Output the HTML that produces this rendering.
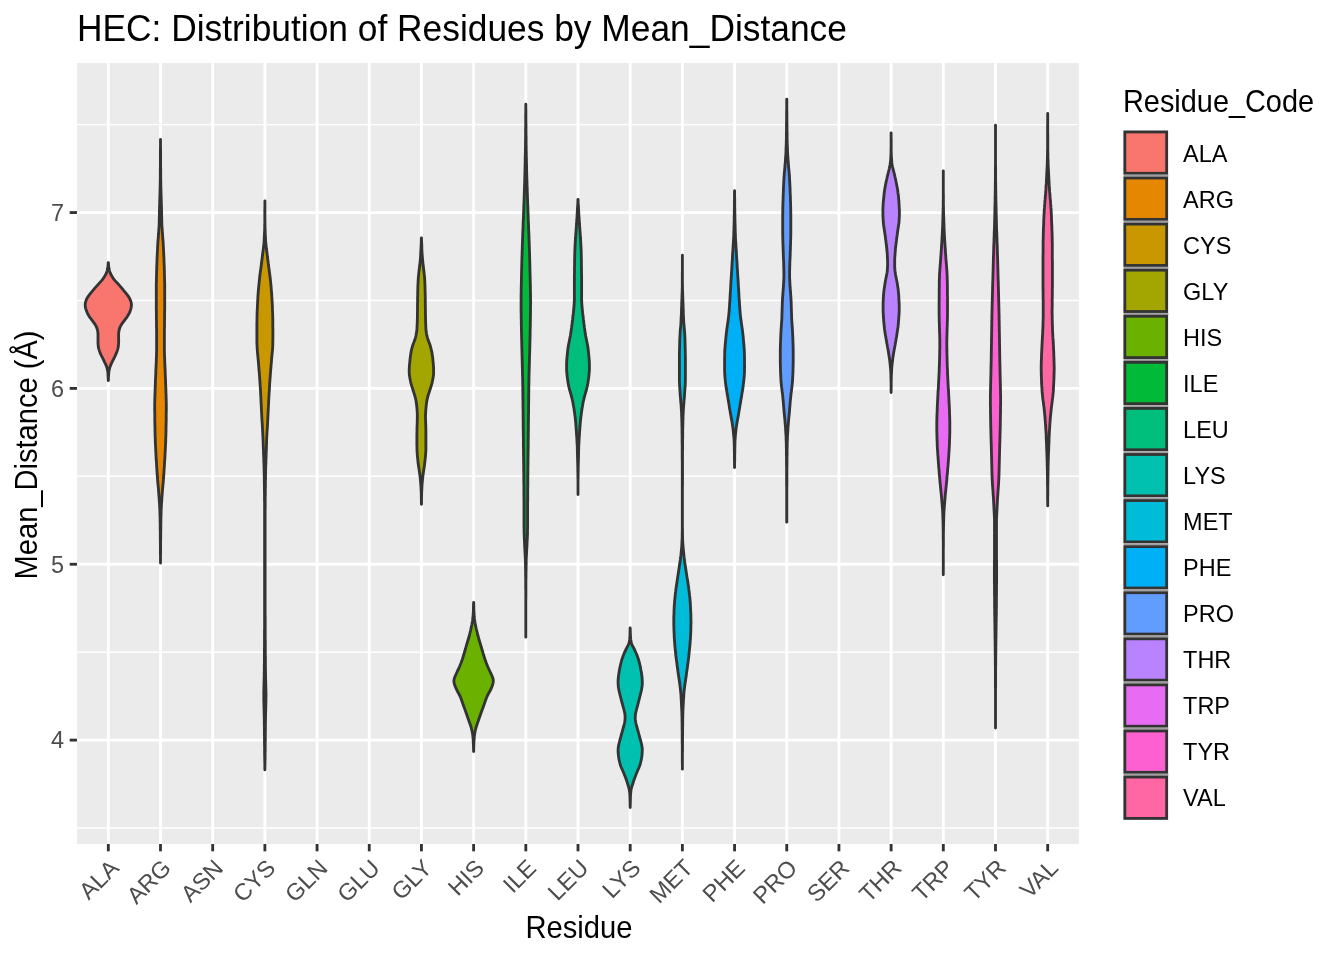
<!DOCTYPE html>
<html><head><meta charset="utf-8"><style>html,body{margin:0;padding:0;background:#fff;overflow:hidden}svg{display:block;will-change:transform}</style></head>
<body><svg width="1344" height="960" viewBox="0 0 1344 960">
<rect x="0" y="0" width="1344" height="960" fill="#FFFFFF"/>
<rect x="77.0" y="63.0" width="1002.0" height="781.0" fill="#EBEBEB"/>
<line x1="77.0" x2="1079.0" y1="124.63" y2="124.63" stroke="#FFFFFF" stroke-width="1.42"/>
<line x1="77.0" x2="1079.0" y1="300.48" y2="300.48" stroke="#FFFFFF" stroke-width="1.42"/>
<line x1="77.0" x2="1079.0" y1="476.32" y2="476.32" stroke="#FFFFFF" stroke-width="1.42"/>
<line x1="77.0" x2="1079.0" y1="652.17" y2="652.17" stroke="#FFFFFF" stroke-width="1.42"/>
<line x1="77.0" x2="1079.0" y1="828.03" y2="828.03" stroke="#FFFFFF" stroke-width="1.42"/>
<line x1="77.0" x2="1079.0" y1="212.55" y2="212.55" stroke="#FFFFFF" stroke-width="2.84"/>
<line x1="77.0" x2="1079.0" y1="388.40" y2="388.40" stroke="#FFFFFF" stroke-width="2.84"/>
<line x1="77.0" x2="1079.0" y1="564.25" y2="564.25" stroke="#FFFFFF" stroke-width="2.84"/>
<line x1="77.0" x2="1079.0" y1="740.10" y2="740.10" stroke="#FFFFFF" stroke-width="2.84"/>
<line x1="108.31" x2="108.31" y1="63.0" y2="844.0" stroke="#FFFFFF" stroke-width="2.84"/>
<line x1="160.50" x2="160.50" y1="63.0" y2="844.0" stroke="#FFFFFF" stroke-width="2.84"/>
<line x1="212.69" x2="212.69" y1="63.0" y2="844.0" stroke="#FFFFFF" stroke-width="2.84"/>
<line x1="264.88" x2="264.88" y1="63.0" y2="844.0" stroke="#FFFFFF" stroke-width="2.84"/>
<line x1="317.06" x2="317.06" y1="63.0" y2="844.0" stroke="#FFFFFF" stroke-width="2.84"/>
<line x1="369.25" x2="369.25" y1="63.0" y2="844.0" stroke="#FFFFFF" stroke-width="2.84"/>
<line x1="421.44" x2="421.44" y1="63.0" y2="844.0" stroke="#FFFFFF" stroke-width="2.84"/>
<line x1="473.62" x2="473.62" y1="63.0" y2="844.0" stroke="#FFFFFF" stroke-width="2.84"/>
<line x1="525.81" x2="525.81" y1="63.0" y2="844.0" stroke="#FFFFFF" stroke-width="2.84"/>
<line x1="578.00" x2="578.00" y1="63.0" y2="844.0" stroke="#FFFFFF" stroke-width="2.84"/>
<line x1="630.19" x2="630.19" y1="63.0" y2="844.0" stroke="#FFFFFF" stroke-width="2.84"/>
<line x1="682.38" x2="682.38" y1="63.0" y2="844.0" stroke="#FFFFFF" stroke-width="2.84"/>
<line x1="734.56" x2="734.56" y1="63.0" y2="844.0" stroke="#FFFFFF" stroke-width="2.84"/>
<line x1="786.75" x2="786.75" y1="63.0" y2="844.0" stroke="#FFFFFF" stroke-width="2.84"/>
<line x1="838.94" x2="838.94" y1="63.0" y2="844.0" stroke="#FFFFFF" stroke-width="2.84"/>
<line x1="891.12" x2="891.12" y1="63.0" y2="844.0" stroke="#FFFFFF" stroke-width="2.84"/>
<line x1="943.31" x2="943.31" y1="63.0" y2="844.0" stroke="#FFFFFF" stroke-width="2.84"/>
<line x1="995.50" x2="995.50" y1="63.0" y2="844.0" stroke="#FFFFFF" stroke-width="2.84"/>
<line x1="1047.69" x2="1047.69" y1="63.0" y2="844.0" stroke="#FFFFFF" stroke-width="2.84"/>
<path d="M108.4 262.6 L108.5 264.6 L108.7 266.6 L109.0 268.6 L109.4 270.6 L110.1 272.6 L110.9 274.6 L112.1 276.6 L113.4 278.6 L115.0 280.6 L116.8 282.6 L118.7 284.6 L120.5 286.6 L122.2 288.6 L123.8 290.6 L125.5 292.6 L127.1 294.6 L128.5 296.6 L129.7 298.6 L130.6 300.6 L131.2 302.6 L131.5 304.6 L131.3 306.6 L130.9 308.6 L130.3 310.6 L129.5 312.6 L128.5 314.6 L127.3 316.6 L125.8 318.6 L124.3 320.6 L122.8 322.6 L121.5 324.6 L120.3 326.6 L119.5 328.6 L119.0 330.6 L118.7 332.6 L118.6 334.6 L118.6 336.6 L118.6 338.6 L118.7 340.6 L118.6 342.6 L118.5 344.6 L118.3 346.6 L117.9 348.6 L117.3 350.6 L116.6 352.6 L115.7 354.6 L114.8 356.6 L113.8 358.6 L112.8 360.6 L111.8 362.6 L110.9 364.6 L110.1 366.6 L109.5 368.6 L109.0 370.6 L108.8 372.6 L108.6 374.6 L108.5 376.6 L108.4 378.6 L108.4 380.6 L108.3 380.6 L108.2 378.6 L108.1 376.6 L108.0 374.6 L107.9 372.6 L107.6 370.6 L107.2 368.6 L106.6 366.6 L105.8 364.6 L104.8 362.6 L103.9 360.6 L102.9 358.6 L101.9 356.6 L100.9 354.6 L100.0 352.6 L99.3 350.6 L98.7 348.6 L98.3 346.6 L98.1 344.6 L98.0 342.6 L98.0 340.6 L98.0 338.6 L98.0 336.6 L98.0 334.6 L97.9 332.6 L97.6 330.6 L97.1 328.6 L96.3 326.6 L95.2 324.6 L93.8 322.6 L92.3 320.6 L90.8 318.6 L89.3 316.6 L88.1 314.6 L87.2 312.6 L86.4 310.6 L85.7 308.6 L85.3 306.6 L85.2 304.6 L85.4 302.6 L86.0 300.6 L86.9 298.6 L88.1 296.6 L89.5 294.6 L91.1 292.6 L92.8 290.6 L94.4 288.6 L96.2 286.6 L98.0 284.6 L99.8 282.6 L101.6 280.6 L103.2 278.6 L104.5 276.6 L105.7 274.6 L106.6 272.6 L107.2 270.6 L107.6 268.6 L107.9 266.6 L108.1 264.6 L108.2 262.6 Z" fill="#F8766D" stroke="#333333" stroke-width="2.84" stroke-linejoin="round"/>
<path d="M160.5 139.5 L160.5 141.5 L160.5 143.5 L160.5 145.5 L160.5 147.5 L160.6 149.5 L160.6 151.5 L160.6 153.5 L160.6 155.5 L160.6 157.5 L160.6 159.5 L160.6 161.5 L160.6 163.5 L160.6 165.5 L160.6 167.5 L160.7 169.5 L160.7 171.5 L160.7 173.5 L160.7 175.5 L160.7 177.5 L160.7 179.5 L160.8 181.5 L160.8 183.5 L160.8 185.5 L160.9 187.5 L160.9 189.5 L161.0 191.5 L161.0 193.5 L161.1 195.5 L161.2 197.5 L161.2 199.5 L161.3 201.5 L161.3 203.5 L161.4 205.5 L161.5 207.5 L161.5 209.5 L161.6 211.5 L161.6 213.5 L161.6 215.5 L161.7 217.5 L161.7 219.5 L161.8 221.5 L161.8 223.5 L161.9 225.5 L162.0 227.5 L162.2 229.5 L162.3 231.5 L162.4 233.5 L162.6 235.5 L162.7 237.5 L162.9 239.5 L163.1 241.5 L163.2 243.5 L163.3 245.5 L163.4 247.5 L163.5 249.5 L163.6 251.5 L163.7 253.5 L163.8 255.5 L163.9 257.5 L164.0 259.5 L164.0 261.5 L164.1 263.5 L164.2 265.5 L164.3 267.5 L164.3 269.5 L164.4 271.5 L164.4 273.5 L164.5 275.5 L164.5 277.5 L164.6 279.5 L164.6 281.5 L164.7 283.5 L164.7 285.5 L164.7 287.5 L164.7 289.5 L164.7 291.5 L164.7 293.5 L164.7 295.5 L164.7 297.5 L164.7 299.5 L164.7 301.5 L164.7 303.5 L164.7 305.5 L164.7 307.5 L164.7 309.5 L164.6 311.5 L164.6 313.5 L164.6 315.5 L164.6 317.5 L164.6 319.5 L164.5 321.5 L164.5 323.5 L164.5 325.5 L164.5 327.5 L164.4 329.5 L164.4 331.5 L164.4 333.5 L164.4 335.5 L164.4 337.5 L164.4 339.5 L164.4 341.5 L164.4 343.5 L164.4 345.5 L164.4 347.5 L164.4 349.5 L164.4 351.5 L164.5 353.5 L164.5 355.5 L164.6 357.5 L164.7 359.5 L164.7 361.5 L164.8 363.5 L164.9 365.5 L165.0 367.5 L165.1 369.5 L165.2 371.5 L165.2 373.5 L165.3 375.5 L165.4 377.5 L165.5 379.5 L165.6 381.5 L165.6 383.5 L165.7 385.5 L165.8 387.5 L165.9 389.5 L165.9 391.5 L166.0 393.5 L166.1 395.5 L166.1 397.5 L166.2 399.5 L166.2 401.5 L166.3 403.5 L166.3 405.5 L166.3 407.5 L166.3 409.5 L166.3 411.5 L166.2 413.5 L166.2 415.5 L166.2 417.5 L166.2 419.5 L166.2 421.5 L166.1 423.5 L166.1 425.5 L166.0 427.5 L166.0 429.5 L166.0 431.5 L165.9 433.5 L165.9 435.5 L165.8 437.5 L165.7 439.5 L165.7 441.5 L165.6 443.5 L165.5 445.5 L165.4 447.5 L165.3 449.5 L165.2 451.5 L165.1 453.5 L165.0 455.5 L164.9 457.5 L164.8 459.5 L164.6 461.5 L164.5 463.5 L164.4 465.5 L164.3 467.5 L164.1 469.5 L164.0 471.5 L163.9 473.5 L163.7 475.5 L163.6 477.5 L163.4 479.5 L163.3 481.5 L163.1 483.5 L162.9 485.5 L162.7 487.5 L162.5 489.5 L162.4 491.5 L162.2 493.5 L162.1 495.5 L161.9 497.5 L161.8 499.5 L161.7 501.5 L161.5 503.5 L161.4 505.5 L161.3 507.5 L161.2 509.5 L161.1 511.5 L161.1 513.5 L161.0 515.5 L160.9 517.5 L160.9 519.5 L160.9 521.5 L160.8 523.5 L160.8 525.5 L160.8 527.5 L160.8 529.5 L160.7 531.5 L160.7 533.5 L160.7 535.5 L160.7 537.5 L160.7 539.5 L160.6 541.5 L160.6 543.5 L160.6 545.5 L160.6 547.5 L160.6 549.5 L160.6 551.5 L160.6 553.5 L160.5 555.5 L160.5 557.5 L160.5 559.5 L160.5 561.5 L160.5 563.0 L160.5 563.0 L160.5 561.5 L160.5 559.5 L160.5 557.5 L160.5 555.5 L160.4 553.5 L160.4 551.5 L160.4 549.5 L160.4 547.5 L160.4 545.5 L160.4 543.5 L160.4 541.5 L160.3 539.5 L160.3 537.5 L160.3 535.5 L160.3 533.5 L160.3 531.5 L160.2 529.5 L160.2 527.5 L160.2 525.5 L160.2 523.5 L160.1 521.5 L160.1 519.5 L160.1 517.5 L160.0 515.5 L159.9 513.5 L159.9 511.5 L159.8 509.5 L159.7 507.5 L159.6 505.5 L159.5 503.5 L159.3 501.5 L159.2 499.5 L159.1 497.5 L158.9 495.5 L158.8 493.5 L158.6 491.5 L158.5 489.5 L158.3 487.5 L158.1 485.5 L157.9 483.5 L157.7 481.5 L157.6 479.5 L157.4 477.5 L157.3 475.5 L157.1 473.5 L157.0 471.5 L156.9 469.5 L156.7 467.5 L156.6 465.5 L156.5 463.5 L156.4 461.5 L156.2 459.5 L156.1 457.5 L156.0 455.5 L155.9 453.5 L155.8 451.5 L155.7 449.5 L155.6 447.5 L155.5 445.5 L155.4 443.5 L155.3 441.5 L155.3 439.5 L155.2 437.5 L155.1 435.5 L155.1 433.5 L155.0 431.5 L155.0 429.5 L155.0 427.5 L154.9 425.5 L154.9 423.5 L154.8 421.5 L154.8 419.5 L154.8 417.5 L154.8 415.5 L154.8 413.5 L154.7 411.5 L154.7 409.5 L154.7 407.5 L154.7 405.5 L154.7 403.5 L154.8 401.5 L154.8 399.5 L154.9 397.5 L154.9 395.5 L155.0 393.5 L155.1 391.5 L155.1 389.5 L155.2 387.5 L155.3 385.5 L155.4 383.5 L155.4 381.5 L155.5 379.5 L155.6 377.5 L155.7 375.5 L155.8 373.5 L155.8 371.5 L155.9 369.5 L156.0 367.5 L156.1 365.5 L156.2 363.5 L156.3 361.5 L156.3 359.5 L156.4 357.5 L156.5 355.5 L156.5 353.5 L156.6 351.5 L156.6 349.5 L156.6 347.5 L156.6 345.5 L156.6 343.5 L156.6 341.5 L156.6 339.5 L156.6 337.5 L156.6 335.5 L156.6 333.5 L156.6 331.5 L156.6 329.5 L156.5 327.5 L156.5 325.5 L156.5 323.5 L156.5 321.5 L156.4 319.5 L156.4 317.5 L156.4 315.5 L156.4 313.5 L156.4 311.5 L156.3 309.5 L156.3 307.5 L156.3 305.5 L156.3 303.5 L156.3 301.5 L156.3 299.5 L156.3 297.5 L156.3 295.5 L156.3 293.5 L156.3 291.5 L156.3 289.5 L156.3 287.5 L156.3 285.5 L156.3 283.5 L156.4 281.5 L156.4 279.5 L156.5 277.5 L156.5 275.5 L156.6 273.5 L156.6 271.5 L156.7 269.5 L156.7 267.5 L156.8 265.5 L156.9 263.5 L157.0 261.5 L157.0 259.5 L157.1 257.5 L157.2 255.5 L157.3 253.5 L157.4 251.5 L157.5 249.5 L157.6 247.5 L157.7 245.5 L157.8 243.5 L157.9 241.5 L158.1 239.5 L158.3 237.5 L158.4 235.5 L158.6 233.5 L158.7 231.5 L158.8 229.5 L159.0 227.5 L159.1 225.5 L159.2 223.5 L159.2 221.5 L159.3 219.5 L159.3 217.5 L159.4 215.5 L159.4 213.5 L159.4 211.5 L159.5 209.5 L159.5 207.5 L159.6 205.5 L159.7 203.5 L159.7 201.5 L159.8 199.5 L159.8 197.5 L159.9 195.5 L160.0 193.5 L160.0 191.5 L160.1 189.5 L160.1 187.5 L160.2 185.5 L160.2 183.5 L160.2 181.5 L160.3 179.5 L160.3 177.5 L160.3 175.5 L160.3 173.5 L160.3 171.5 L160.3 169.5 L160.4 167.5 L160.4 165.5 L160.4 163.5 L160.4 161.5 L160.4 159.5 L160.4 157.5 L160.4 155.5 L160.4 153.5 L160.4 151.5 L160.4 149.5 L160.5 147.5 L160.5 145.5 L160.5 143.5 L160.5 141.5 L160.5 139.5 Z" fill="#E58700" stroke="#333333" stroke-width="2.84" stroke-linejoin="round"/>
<path d="M264.9 200.8 L264.9 202.8 L264.9 204.8 L264.9 206.8 L264.9 208.8 L264.9 210.8 L264.9 212.8 L264.9 214.8 L264.9 216.8 L264.9 218.8 L265.0 220.8 L265.0 222.8 L265.0 224.8 L265.0 226.8 L265.1 228.8 L265.2 230.8 L265.2 232.8 L265.3 234.8 L265.4 236.8 L265.5 238.8 L265.6 240.8 L265.8 242.8 L266.0 244.8 L266.2 246.8 L266.4 248.8 L266.7 250.8 L266.9 252.8 L267.2 254.8 L267.4 256.8 L267.7 258.8 L267.9 260.8 L268.2 262.8 L268.4 264.8 L268.7 266.8 L269.0 268.8 L269.2 270.8 L269.5 272.8 L269.8 274.8 L270.0 276.8 L270.3 278.8 L270.5 280.8 L270.7 282.8 L270.9 284.8 L271.1 286.8 L271.2 288.8 L271.4 290.8 L271.6 292.8 L271.7 294.8 L271.8 296.8 L272.0 298.8 L272.1 300.8 L272.2 302.8 L272.3 304.8 L272.4 306.8 L272.4 308.8 L272.5 310.8 L272.6 312.8 L272.7 314.8 L272.7 316.8 L272.8 318.8 L272.8 320.8 L272.8 322.8 L272.8 324.8 L272.8 326.8 L272.9 328.8 L272.9 330.8 L272.9 332.8 L272.9 334.8 L272.9 336.8 L272.9 338.8 L272.8 340.8 L272.8 342.8 L272.8 344.8 L272.7 346.8 L272.6 348.8 L272.4 350.8 L272.2 352.8 L272.0 354.8 L271.8 356.8 L271.6 358.8 L271.5 360.8 L271.3 362.8 L271.1 364.8 L271.0 366.8 L270.8 368.8 L270.6 370.8 L270.5 372.8 L270.3 374.8 L270.2 376.8 L270.0 378.8 L269.9 380.8 L269.7 382.8 L269.6 384.8 L269.5 386.8 L269.4 388.8 L269.3 390.8 L269.1 392.8 L269.0 394.8 L268.9 396.8 L268.8 398.8 L268.7 400.8 L268.6 402.8 L268.5 404.8 L268.4 406.8 L268.3 408.8 L268.2 410.8 L268.1 412.8 L268.0 414.8 L267.9 416.8 L267.8 418.8 L267.7 420.8 L267.6 422.8 L267.5 424.8 L267.4 426.8 L267.3 428.8 L267.1 430.8 L267.0 432.8 L266.9 434.8 L266.8 436.8 L266.7 438.8 L266.6 440.8 L266.6 442.8 L266.5 444.8 L266.4 446.8 L266.4 448.8 L266.3 450.8 L266.2 452.8 L266.1 454.8 L266.1 456.8 L266.0 458.8 L265.9 460.8 L265.9 462.8 L265.8 464.8 L265.7 466.8 L265.7 468.8 L265.6 470.8 L265.6 472.8 L265.5 474.8 L265.5 476.8 L265.5 478.8 L265.4 480.8 L265.4 482.8 L265.4 484.8 L265.4 486.8 L265.3 488.8 L265.3 490.8 L265.3 492.8 L265.3 494.8 L265.2 496.8 L265.2 498.8 L265.2 500.8 L265.2 502.8 L265.2 504.8 L265.2 506.8 L265.2 508.8 L265.1 510.8 L265.1 512.8 L265.1 514.8 L265.1 516.8 L265.1 518.8 L265.1 520.8 L265.1 522.8 L265.1 524.8 L265.1 526.8 L265.1 528.8 L265.1 530.8 L265.1 532.8 L265.1 534.8 L265.1 536.8 L265.1 538.8 L265.1 540.8 L265.1 542.8 L265.1 544.8 L265.1 546.8 L265.1 548.8 L265.1 550.8 L265.1 552.8 L265.1 554.8 L265.1 556.8 L265.1 558.8 L265.1 560.8 L265.1 562.8 L265.1 564.8 L265.1 566.8 L265.1 568.8 L265.1 570.8 L265.1 572.8 L265.1 574.8 L265.1 576.8 L265.1 578.8 L265.1 580.8 L265.1 582.8 L265.1 584.8 L265.1 586.8 L265.1 588.8 L265.1 590.8 L265.1 592.8 L265.1 594.8 L265.1 596.8 L265.1 598.8 L265.1 600.8 L265.1 602.8 L265.1 604.8 L265.1 606.8 L265.1 608.8 L265.1 610.8 L265.1 612.8 L265.1 614.8 L265.2 616.8 L265.2 618.8 L265.2 620.8 L265.2 622.8 L265.2 624.8 L265.2 626.8 L265.2 628.8 L265.2 630.8 L265.2 632.8 L265.2 634.8 L265.2 636.8 L265.2 638.8 L265.3 640.8 L265.3 642.8 L265.3 644.8 L265.3 646.8 L265.3 648.8 L265.3 650.8 L265.3 652.8 L265.3 654.8 L265.4 656.8 L265.4 658.8 L265.4 660.8 L265.4 662.8 L265.4 664.8 L265.4 666.8 L265.5 668.8 L265.5 670.8 L265.5 672.8 L265.5 674.8 L265.6 676.8 L265.6 678.8 L265.7 680.8 L265.7 682.8 L265.8 684.8 L265.8 686.8 L265.9 688.8 L265.9 690.8 L266.0 692.8 L266.0 694.8 L266.0 696.8 L265.9 698.8 L265.9 700.8 L265.9 702.8 L265.8 704.8 L265.8 706.8 L265.7 708.8 L265.7 710.8 L265.6 712.8 L265.6 714.8 L265.5 716.8 L265.5 718.8 L265.5 720.8 L265.4 722.8 L265.4 724.8 L265.4 726.8 L265.4 728.8 L265.3 730.8 L265.3 732.8 L265.3 734.8 L265.3 736.8 L265.3 738.8 L265.3 740.8 L265.2 742.8 L265.2 744.8 L265.2 746.8 L265.2 748.8 L265.2 750.8 L265.1 752.8 L265.1 754.8 L265.1 756.8 L265.1 758.8 L265.0 760.8 L265.0 762.8 L265.0 764.8 L264.9 766.8 L264.9 768.8 L264.9 769.8 L264.9 769.8 L264.8 768.8 L264.8 766.8 L264.8 764.8 L264.8 762.8 L264.7 760.8 L264.7 758.8 L264.7 756.8 L264.6 754.8 L264.6 752.8 L264.6 750.8 L264.6 748.8 L264.6 746.8 L264.5 744.8 L264.5 742.8 L264.5 740.8 L264.5 738.8 L264.5 736.8 L264.4 734.8 L264.4 732.8 L264.4 730.8 L264.4 728.8 L264.4 726.8 L264.3 724.8 L264.3 722.8 L264.3 720.8 L264.3 718.8 L264.2 716.8 L264.2 714.8 L264.1 712.8 L264.1 710.8 L264.0 708.8 L264.0 706.8 L263.9 704.8 L263.9 702.8 L263.8 700.8 L263.8 698.8 L263.8 696.8 L263.8 694.8 L263.8 692.8 L263.8 690.8 L263.9 688.8 L263.9 686.8 L264.0 684.8 L264.0 682.8 L264.1 680.8 L264.1 678.8 L264.2 676.8 L264.2 674.8 L264.2 672.8 L264.3 670.8 L264.3 668.8 L264.3 666.8 L264.3 664.8 L264.4 662.8 L264.4 660.8 L264.4 658.8 L264.4 656.8 L264.4 654.8 L264.4 652.8 L264.4 650.8 L264.4 648.8 L264.5 646.8 L264.5 644.8 L264.5 642.8 L264.5 640.8 L264.5 638.8 L264.5 636.8 L264.5 634.8 L264.5 632.8 L264.5 630.8 L264.6 628.8 L264.6 626.8 L264.6 624.8 L264.6 622.8 L264.6 620.8 L264.6 618.8 L264.6 616.8 L264.6 614.8 L264.6 612.8 L264.6 610.8 L264.6 608.8 L264.6 606.8 L264.6 604.8 L264.6 602.8 L264.6 600.8 L264.6 598.8 L264.6 596.8 L264.6 594.8 L264.6 592.8 L264.6 590.8 L264.6 588.8 L264.6 586.8 L264.6 584.8 L264.6 582.8 L264.6 580.8 L264.6 578.8 L264.6 576.8 L264.6 574.8 L264.6 572.8 L264.6 570.8 L264.6 568.8 L264.6 566.8 L264.6 564.8 L264.6 562.8 L264.6 560.8 L264.6 558.8 L264.6 556.8 L264.6 554.8 L264.6 552.8 L264.6 550.8 L264.6 548.8 L264.6 546.8 L264.6 544.8 L264.6 542.8 L264.6 540.8 L264.6 538.8 L264.6 536.8 L264.6 534.8 L264.6 532.8 L264.6 530.8 L264.6 528.8 L264.6 526.8 L264.6 524.8 L264.6 522.8 L264.6 520.8 L264.6 518.8 L264.6 516.8 L264.6 514.8 L264.6 512.8 L264.6 510.8 L264.6 508.8 L264.6 506.8 L264.6 504.8 L264.6 502.8 L264.5 500.8 L264.5 498.8 L264.5 496.8 L264.5 494.8 L264.5 492.8 L264.4 490.8 L264.4 488.8 L264.4 486.8 L264.4 484.8 L264.3 482.8 L264.3 480.8 L264.3 478.8 L264.3 476.8 L264.2 474.8 L264.2 472.8 L264.1 470.8 L264.1 468.8 L264.0 466.8 L264.0 464.8 L263.9 462.8 L263.8 460.8 L263.8 458.8 L263.7 456.8 L263.6 454.8 L263.5 452.8 L263.5 450.8 L263.4 448.8 L263.3 446.8 L263.2 444.8 L263.2 442.8 L263.1 440.8 L263.0 438.8 L262.9 436.8 L262.8 434.8 L262.7 432.8 L262.6 430.8 L262.5 428.8 L262.4 426.8 L262.3 424.8 L262.2 422.8 L262.0 420.8 L261.9 418.8 L261.8 416.8 L261.7 414.8 L261.6 412.8 L261.5 410.8 L261.4 408.8 L261.3 406.8 L261.2 404.8 L261.1 402.8 L261.0 400.8 L260.9 398.8 L260.8 396.8 L260.7 394.8 L260.6 392.8 L260.5 390.8 L260.4 388.8 L260.3 386.8 L260.1 384.8 L260.0 382.8 L259.9 380.8 L259.7 378.8 L259.6 376.8 L259.4 374.8 L259.3 372.8 L259.1 370.8 L258.9 368.8 L258.8 366.8 L258.6 364.8 L258.5 362.8 L258.3 360.8 L258.1 358.8 L257.9 356.8 L257.7 354.8 L257.5 352.8 L257.4 350.8 L257.2 348.8 L257.1 346.8 L257.0 344.8 L256.9 342.8 L256.9 340.8 L256.9 338.8 L256.9 336.8 L256.9 334.8 L256.9 332.8 L256.9 330.8 L256.9 328.8 L256.9 326.8 L256.9 324.8 L256.9 322.8 L257.0 320.8 L257.0 318.8 L257.0 316.8 L257.1 314.8 L257.1 312.8 L257.2 310.8 L257.3 308.8 L257.4 306.8 L257.5 304.8 L257.6 302.8 L257.7 300.8 L257.8 298.8 L257.9 296.8 L258.0 294.8 L258.2 292.8 L258.3 290.8 L258.5 288.8 L258.7 286.8 L258.9 284.8 L259.1 282.8 L259.3 280.8 L259.5 278.8 L259.7 276.8 L260.0 274.8 L260.2 272.8 L260.5 270.8 L260.8 268.8 L261.1 266.8 L261.3 264.8 L261.6 262.8 L261.8 260.8 L262.1 258.8 L262.3 256.8 L262.6 254.8 L262.8 252.8 L263.1 250.8 L263.3 248.8 L263.6 246.8 L263.8 244.8 L264.0 242.8 L264.1 240.8 L264.2 238.8 L264.3 236.8 L264.4 234.8 L264.5 232.8 L264.6 230.8 L264.7 228.8 L264.7 226.8 L264.7 224.8 L264.8 222.8 L264.8 220.8 L264.8 218.8 L264.8 216.8 L264.8 214.8 L264.8 212.8 L264.8 210.8 L264.8 208.8 L264.9 206.8 L264.9 204.8 L264.9 202.8 L264.9 200.8 Z" fill="#C99800" stroke="#333333" stroke-width="2.84" stroke-linejoin="round"/>
<path d="M421.5 237.8 L421.5 239.8 L421.6 241.8 L421.7 243.8 L421.8 245.8 L421.8 247.8 L421.9 249.8 L422.0 251.8 L422.1 253.8 L422.3 255.8 L422.4 257.8 L422.6 259.8 L422.8 261.8 L423.0 263.8 L423.2 265.8 L423.5 267.8 L423.7 269.8 L424.0 271.8 L424.2 273.8 L424.4 275.8 L424.6 277.8 L424.7 279.8 L424.8 281.8 L424.9 283.8 L425.0 285.8 L425.0 287.8 L425.1 289.8 L425.1 291.8 L425.2 293.8 L425.2 295.8 L425.3 297.8 L425.3 299.8 L425.3 301.8 L425.3 303.8 L425.3 305.8 L425.4 307.8 L425.4 309.8 L425.4 311.8 L425.4 313.8 L425.5 315.8 L425.5 317.8 L425.6 319.8 L425.6 321.8 L425.7 323.8 L425.8 325.8 L425.8 327.8 L426.0 329.8 L426.2 331.8 L426.5 333.8 L427.0 335.8 L427.5 337.8 L428.1 339.8 L428.8 341.8 L429.6 343.8 L430.3 345.8 L430.8 347.8 L431.3 349.8 L431.8 351.8 L432.1 353.8 L432.4 355.8 L432.7 357.8 L432.9 359.8 L433.1 361.8 L433.3 363.8 L433.4 365.8 L433.6 367.8 L433.6 369.8 L433.6 371.8 L433.6 373.8 L433.4 375.8 L433.1 377.8 L432.7 379.8 L432.3 381.8 L431.8 383.8 L431.2 385.8 L430.6 387.8 L430.0 389.8 L429.3 391.8 L428.7 393.8 L428.0 395.8 L427.5 397.8 L427.1 399.8 L426.7 401.8 L426.4 403.8 L426.2 405.8 L426.0 407.8 L425.8 409.8 L425.7 411.8 L425.6 413.8 L425.5 415.8 L425.5 417.8 L425.6 419.8 L425.6 421.8 L425.7 423.8 L425.8 425.8 L425.8 427.8 L425.9 429.8 L425.9 431.8 L425.9 433.8 L425.9 435.8 L425.9 437.8 L425.9 439.8 L425.9 441.8 L425.9 443.8 L425.9 445.8 L425.9 447.8 L425.9 449.8 L425.8 451.8 L425.6 453.8 L425.5 455.8 L425.3 457.8 L425.1 459.8 L424.9 461.8 L424.6 463.8 L424.4 465.8 L424.1 467.8 L423.8 469.8 L423.5 471.8 L423.2 473.8 L422.9 475.8 L422.7 477.8 L422.5 479.8 L422.3 481.8 L422.1 483.8 L422.0 485.8 L421.9 487.8 L421.8 489.8 L421.7 491.8 L421.6 493.8 L421.6 495.8 L421.5 497.8 L421.5 499.8 L421.5 501.8 L421.5 503.8 L421.5 504.3 L421.4 504.3 L421.4 503.8 L421.4 501.8 L421.4 499.8 L421.3 497.8 L421.3 495.8 L421.3 493.8 L421.2 491.8 L421.1 489.8 L421.0 487.8 L420.9 485.8 L420.7 483.8 L420.6 481.8 L420.4 479.8 L420.2 477.8 L420.0 475.8 L419.7 473.8 L419.4 471.8 L419.1 469.8 L418.8 467.8 L418.5 465.8 L418.2 463.8 L418.0 461.8 L417.8 459.8 L417.6 457.8 L417.4 455.8 L417.2 453.8 L417.1 451.8 L417.0 449.8 L417.0 447.8 L416.9 445.8 L416.9 443.8 L416.9 441.8 L416.9 439.8 L416.9 437.8 L416.9 435.8 L416.9 433.8 L417.0 431.8 L417.0 429.8 L417.0 427.8 L417.1 425.8 L417.2 423.8 L417.2 421.8 L417.3 419.8 L417.3 417.8 L417.3 415.8 L417.3 413.8 L417.2 411.8 L417.1 409.8 L416.9 407.8 L416.7 405.8 L416.4 403.8 L416.2 401.8 L415.8 399.8 L415.4 397.8 L414.8 395.8 L414.2 393.8 L413.6 391.8 L412.9 389.8 L412.3 387.8 L411.7 385.8 L411.1 383.8 L410.6 381.8 L410.2 379.8 L409.8 377.8 L409.5 375.8 L409.3 373.8 L409.2 371.8 L409.2 369.8 L409.3 367.8 L409.4 365.8 L409.6 363.8 L409.8 361.8 L410.0 359.8 L410.2 357.8 L410.5 355.8 L410.8 353.8 L411.1 351.8 L411.5 349.8 L412.0 347.8 L412.6 345.8 L413.3 343.8 L414.1 341.8 L414.8 339.8 L415.4 337.8 L415.9 335.8 L416.3 333.8 L416.7 331.8 L416.9 329.8 L417.0 327.8 L417.1 325.8 L417.2 323.8 L417.3 321.8 L417.3 319.8 L417.4 317.8 L417.4 315.8 L417.4 313.8 L417.5 311.8 L417.5 309.8 L417.5 307.8 L417.5 305.8 L417.5 303.8 L417.6 301.8 L417.6 299.8 L417.6 297.8 L417.7 295.8 L417.7 293.8 L417.7 291.8 L417.8 289.8 L417.8 287.8 L417.9 285.8 L418.0 283.8 L418.1 281.8 L418.2 279.8 L418.3 277.8 L418.5 275.8 L418.7 273.8 L418.9 271.8 L419.2 269.8 L419.4 267.8 L419.7 265.8 L419.9 263.8 L420.1 261.8 L420.3 259.8 L420.5 257.8 L420.6 255.8 L420.7 253.8 L420.8 251.8 L420.9 249.8 L421.0 247.8 L421.1 245.8 L421.2 243.8 L421.3 241.8 L421.3 239.8 L421.4 237.8 Z" fill="#A3A500" stroke="#333333" stroke-width="2.84" stroke-linejoin="round"/>
<path d="M473.7 602.5 L473.7 604.5 L473.8 606.5 L473.8 608.5 L473.9 610.5 L474.0 612.5 L474.1 614.5 L474.2 616.5 L474.4 618.5 L474.7 620.5 L475.0 622.5 L475.4 624.5 L475.8 626.5 L476.2 628.5 L476.7 630.5 L477.2 632.5 L477.6 634.5 L478.2 636.5 L478.7 638.5 L479.3 640.5 L479.9 642.5 L480.5 644.5 L481.1 646.5 L481.7 648.5 L482.3 650.5 L482.9 652.5 L483.4 654.5 L484.1 656.5 L484.7 658.5 L485.4 660.5 L486.1 662.5 L486.9 664.5 L487.7 666.5 L488.6 668.5 L489.5 670.5 L490.4 672.5 L491.4 674.5 L492.3 676.5 L493.0 678.5 L493.3 680.5 L493.2 682.5 L492.7 684.5 L492.0 686.5 L491.2 688.5 L490.2 690.5 L489.1 692.5 L488.0 694.5 L487.1 696.5 L486.2 698.5 L485.5 700.5 L484.8 702.5 L484.1 704.5 L483.4 706.5 L482.7 708.5 L481.9 710.5 L481.2 712.5 L480.5 714.5 L479.8 716.5 L479.1 718.5 L478.4 720.5 L477.7 722.5 L477.0 724.5 L476.4 726.5 L475.8 728.5 L475.3 730.5 L474.9 732.5 L474.6 734.5 L474.3 736.5 L474.2 738.5 L474.0 740.5 L473.9 742.5 L473.8 744.5 L473.8 746.5 L473.7 748.5 L473.7 750.5 L473.7 751.5 L473.6 751.5 L473.6 750.5 L473.5 748.5 L473.5 746.5 L473.4 744.5 L473.3 742.5 L473.2 740.5 L473.1 738.5 L472.9 736.5 L472.7 734.5 L472.3 732.5 L471.9 730.5 L471.4 728.5 L470.9 726.5 L470.2 724.5 L469.5 722.5 L468.8 720.5 L468.1 718.5 L467.4 716.5 L466.7 714.5 L466.0 712.5 L465.3 710.5 L464.6 708.5 L463.8 706.5 L463.1 704.5 L462.4 702.5 L461.7 700.5 L461.0 698.5 L460.2 696.5 L459.2 694.5 L458.1 692.5 L457.1 690.5 L456.1 688.5 L455.2 686.5 L454.5 684.5 L454.0 682.5 L453.9 680.5 L454.3 678.5 L455.0 676.5 L455.9 674.5 L456.8 672.5 L457.7 670.5 L458.7 668.5 L459.6 666.5 L460.4 664.5 L461.2 662.5 L461.9 660.5 L462.6 658.5 L463.2 656.5 L463.8 654.5 L464.4 652.5 L465.0 650.5 L465.6 648.5 L466.1 646.5 L466.7 644.5 L467.3 642.5 L467.9 640.5 L468.5 638.5 L469.1 636.5 L469.6 634.5 L470.1 632.5 L470.6 630.5 L471.0 628.5 L471.4 626.5 L471.9 624.5 L472.2 622.5 L472.6 620.5 L472.8 618.5 L473.0 616.5 L473.2 614.5 L473.3 612.5 L473.4 610.5 L473.4 608.5 L473.5 606.5 L473.5 604.5 L473.6 602.5 Z" fill="#6BB100" stroke="#333333" stroke-width="2.84" stroke-linejoin="round"/>
<path d="M525.8 104.2 L525.8 106.2 L525.8 108.2 L525.9 110.2 L525.9 112.2 L525.9 114.2 L525.9 116.2 L525.9 118.2 L525.9 120.2 L525.9 122.2 L526.0 124.2 L526.0 126.2 L526.0 128.2 L526.0 130.2 L526.0 132.2 L526.0 134.2 L526.1 136.2 L526.1 138.2 L526.1 140.2 L526.1 142.2 L526.1 144.2 L526.2 146.2 L526.2 148.2 L526.2 150.2 L526.3 152.2 L526.3 154.2 L526.3 156.2 L526.4 158.2 L526.4 160.2 L526.5 162.2 L526.5 164.2 L526.6 166.2 L526.6 168.2 L526.6 170.2 L526.7 172.2 L526.7 174.2 L526.8 176.2 L526.8 178.2 L526.9 180.2 L527.0 182.2 L527.0 184.2 L527.1 186.2 L527.2 188.2 L527.2 190.2 L527.3 192.2 L527.4 194.2 L527.4 196.2 L527.5 198.2 L527.6 200.2 L527.6 202.2 L527.7 204.2 L527.8 206.2 L527.9 208.2 L527.9 210.2 L528.0 212.2 L528.1 214.2 L528.2 216.2 L528.2 218.2 L528.3 220.2 L528.4 222.2 L528.5 224.2 L528.6 226.2 L528.6 228.2 L528.7 230.2 L528.8 232.2 L528.9 234.2 L529.0 236.2 L529.0 238.2 L529.1 240.2 L529.2 242.2 L529.2 244.2 L529.3 246.2 L529.4 248.2 L529.4 250.2 L529.5 252.2 L529.6 254.2 L529.6 256.2 L529.7 258.2 L529.7 260.2 L529.8 262.2 L529.8 264.2 L529.9 266.2 L529.9 268.2 L530.0 270.2 L530.0 272.2 L530.1 274.2 L530.1 276.2 L530.2 278.2 L530.2 280.2 L530.3 282.2 L530.3 284.2 L530.4 286.2 L530.4 288.2 L530.4 290.2 L530.5 292.2 L530.5 294.2 L530.5 296.2 L530.5 298.2 L530.6 300.2 L530.6 302.2 L530.6 304.2 L530.5 306.2 L530.5 308.2 L530.5 310.2 L530.5 312.2 L530.5 314.2 L530.4 316.2 L530.4 318.2 L530.4 320.2 L530.3 322.2 L530.3 324.2 L530.3 326.2 L530.2 328.2 L530.2 330.2 L530.1 332.2 L530.1 334.2 L530.1 336.2 L530.0 338.2 L530.0 340.2 L529.9 342.2 L529.9 344.2 L529.8 346.2 L529.8 348.2 L529.7 350.2 L529.7 352.2 L529.6 354.2 L529.5 356.2 L529.5 358.2 L529.4 360.2 L529.4 362.2 L529.3 364.2 L529.3 366.2 L529.2 368.2 L529.2 370.2 L529.1 372.2 L529.1 374.2 L529.0 376.2 L529.0 378.2 L529.0 380.2 L528.9 382.2 L528.9 384.2 L528.8 386.2 L528.8 388.2 L528.8 390.2 L528.8 392.2 L528.7 394.2 L528.7 396.2 L528.7 398.2 L528.7 400.2 L528.7 402.2 L528.6 404.2 L528.6 406.2 L528.6 408.2 L528.6 410.2 L528.6 412.2 L528.5 414.2 L528.5 416.2 L528.5 418.2 L528.5 420.2 L528.4 422.2 L528.4 424.2 L528.4 426.2 L528.4 428.2 L528.4 430.2 L528.3 432.2 L528.3 434.2 L528.3 436.2 L528.3 438.2 L528.2 440.2 L528.2 442.2 L528.2 444.2 L528.2 446.2 L528.2 448.2 L528.1 450.2 L528.1 452.2 L528.1 454.2 L528.1 456.2 L528.0 458.2 L528.0 460.2 L528.0 462.2 L528.0 464.2 L527.9 466.2 L527.9 468.2 L527.9 470.2 L527.9 472.2 L527.9 474.2 L527.8 476.2 L527.8 478.2 L527.8 480.2 L527.8 482.2 L527.8 484.2 L527.8 486.2 L527.7 488.2 L527.7 490.2 L527.7 492.2 L527.7 494.2 L527.7 496.2 L527.7 498.2 L527.7 500.2 L527.6 502.2 L527.6 504.2 L527.6 506.2 L527.6 508.2 L527.6 510.2 L527.6 512.2 L527.6 514.2 L527.6 516.2 L527.6 518.2 L527.6 520.2 L527.6 522.2 L527.6 524.2 L527.6 526.2 L527.6 528.2 L527.5 530.2 L527.5 532.2 L527.5 534.2 L527.4 536.2 L527.3 538.2 L527.2 540.2 L527.1 542.2 L527.0 544.2 L526.9 546.2 L526.8 548.2 L526.7 550.2 L526.6 552.2 L526.5 554.2 L526.4 556.2 L526.3 558.2 L526.2 560.2 L526.2 562.2 L526.2 564.2 L526.1 566.2 L526.1 568.2 L526.1 570.2 L526.0 572.2 L526.0 574.2 L526.0 576.2 L526.0 578.2 L525.9 580.2 L525.9 582.2 L525.9 584.2 L525.9 586.2 L525.9 588.2 L525.9 590.2 L525.9 592.2 L525.9 594.2 L525.9 596.2 L525.9 598.2 L525.8 600.2 L525.8 602.2 L525.8 604.2 L525.8 606.2 L525.8 608.2 L525.8 610.2 L525.8 612.2 L525.8 614.2 L525.8 616.2 L525.8 618.2 L525.8 620.2 L525.8 622.2 L525.8 624.2 L525.8 626.2 L525.8 628.2 L525.8 630.2 L525.8 632.2 L525.8 634.2 L525.8 636.2 L525.8 637.2 L525.8 637.2 L525.8 636.2 L525.8 634.2 L525.8 632.2 L525.8 630.2 L525.8 628.2 L525.8 626.2 L525.8 624.2 L525.8 622.2 L525.8 620.2 L525.8 618.2 L525.8 616.2 L525.8 614.2 L525.8 612.2 L525.8 610.2 L525.8 608.2 L525.8 606.2 L525.8 604.2 L525.8 602.2 L525.8 600.2 L525.8 598.2 L525.8 596.2 L525.8 594.2 L525.8 592.2 L525.8 590.2 L525.7 588.2 L525.7 586.2 L525.7 584.2 L525.7 582.2 L525.7 580.2 L525.7 578.2 L525.6 576.2 L525.6 574.2 L525.6 572.2 L525.6 570.2 L525.5 568.2 L525.5 566.2 L525.5 564.2 L525.4 562.2 L525.4 560.2 L525.3 558.2 L525.2 556.2 L525.1 554.2 L525.0 552.2 L524.9 550.2 L524.8 548.2 L524.7 546.2 L524.6 544.2 L524.5 542.2 L524.4 540.2 L524.3 538.2 L524.2 536.2 L524.2 534.2 L524.1 532.2 L524.1 530.2 L524.1 528.2 L524.0 526.2 L524.0 524.2 L524.0 522.2 L524.0 520.2 L524.0 518.2 L524.0 516.2 L524.0 514.2 L524.0 512.2 L524.0 510.2 L524.0 508.2 L524.0 506.2 L524.0 504.2 L524.0 502.2 L524.0 500.2 L524.0 498.2 L523.9 496.2 L523.9 494.2 L523.9 492.2 L523.9 490.2 L523.9 488.2 L523.9 486.2 L523.9 484.2 L523.8 482.2 L523.8 480.2 L523.8 478.2 L523.8 476.2 L523.8 474.2 L523.8 472.2 L523.7 470.2 L523.7 468.2 L523.7 466.2 L523.7 464.2 L523.6 462.2 L523.6 460.2 L523.6 458.2 L523.6 456.2 L523.5 454.2 L523.5 452.2 L523.5 450.2 L523.5 448.2 L523.4 446.2 L523.4 444.2 L523.4 442.2 L523.4 440.2 L523.4 438.2 L523.3 436.2 L523.3 434.2 L523.3 432.2 L523.3 430.2 L523.2 428.2 L523.2 426.2 L523.2 424.2 L523.2 422.2 L523.2 420.2 L523.1 418.2 L523.1 416.2 L523.1 414.2 L523.1 412.2 L523.1 410.2 L523.0 408.2 L523.0 406.2 L523.0 404.2 L523.0 402.2 L523.0 400.2 L522.9 398.2 L522.9 396.2 L522.9 394.2 L522.9 392.2 L522.8 390.2 L522.8 388.2 L522.8 386.2 L522.7 384.2 L522.7 382.2 L522.7 380.2 L522.6 378.2 L522.6 376.2 L522.5 374.2 L522.5 372.2 L522.4 370.2 L522.4 368.2 L522.3 366.2 L522.3 364.2 L522.2 362.2 L522.2 360.2 L522.1 358.2 L522.1 356.2 L522.0 354.2 L522.0 352.2 L521.9 350.2 L521.9 348.2 L521.8 346.2 L521.8 344.2 L521.7 342.2 L521.7 340.2 L521.6 338.2 L521.6 336.2 L521.5 334.2 L521.5 332.2 L521.4 330.2 L521.4 328.2 L521.4 326.2 L521.3 324.2 L521.3 322.2 L521.3 320.2 L521.2 318.2 L521.2 316.2 L521.2 314.2 L521.1 312.2 L521.1 310.2 L521.1 308.2 L521.1 306.2 L521.1 304.2 L521.1 302.2 L521.1 300.2 L521.1 298.2 L521.1 296.2 L521.1 294.2 L521.2 292.2 L521.2 290.2 L521.2 288.2 L521.3 286.2 L521.3 284.2 L521.4 282.2 L521.4 280.2 L521.4 278.2 L521.5 276.2 L521.5 274.2 L521.6 272.2 L521.6 270.2 L521.7 268.2 L521.7 266.2 L521.8 264.2 L521.8 262.2 L521.9 260.2 L521.9 258.2 L522.0 256.2 L522.1 254.2 L522.1 252.2 L522.2 250.2 L522.3 248.2 L522.3 246.2 L522.4 244.2 L522.5 242.2 L522.5 240.2 L522.6 238.2 L522.7 236.2 L522.7 234.2 L522.8 232.2 L522.9 230.2 L523.0 228.2 L523.1 226.2 L523.1 224.2 L523.2 222.2 L523.3 220.2 L523.4 218.2 L523.5 216.2 L523.5 214.2 L523.6 212.2 L523.7 210.2 L523.8 208.2 L523.8 206.2 L523.9 204.2 L524.0 202.2 L524.1 200.2 L524.1 198.2 L524.2 196.2 L524.3 194.2 L524.3 192.2 L524.4 190.2 L524.5 188.2 L524.5 186.2 L524.6 184.2 L524.7 182.2 L524.7 180.2 L524.8 178.2 L524.8 176.2 L524.9 174.2 L524.9 172.2 L525.0 170.2 L525.0 168.2 L525.1 166.2 L525.1 164.2 L525.2 162.2 L525.2 160.2 L525.2 158.2 L525.3 156.2 L525.3 154.2 L525.4 152.2 L525.4 150.2 L525.4 148.2 L525.5 146.2 L525.5 144.2 L525.5 142.2 L525.5 140.2 L525.6 138.2 L525.6 136.2 L525.6 134.2 L525.6 132.2 L525.6 130.2 L525.6 128.2 L525.7 126.2 L525.7 124.2 L525.7 122.2 L525.7 120.2 L525.7 118.2 L525.7 116.2 L525.7 114.2 L525.8 112.2 L525.8 110.2 L525.8 108.2 L525.8 106.2 L525.8 104.2 Z" fill="#00BA38" stroke="#333333" stroke-width="2.84" stroke-linejoin="round"/>
<path d="M578.1 199.5 L578.1 201.5 L578.2 203.5 L578.3 205.5 L578.5 207.5 L578.6 209.5 L578.7 211.5 L578.8 213.5 L578.9 215.5 L579.0 217.5 L579.2 219.5 L579.3 221.5 L579.4 223.5 L579.6 225.5 L579.7 227.5 L579.9 229.5 L580.0 231.5 L580.2 233.5 L580.3 235.5 L580.4 237.5 L580.6 239.5 L580.7 241.5 L580.8 243.5 L580.9 245.5 L581.0 247.5 L581.1 249.5 L581.2 251.5 L581.2 253.5 L581.3 255.5 L581.3 257.5 L581.4 259.5 L581.4 261.5 L581.4 263.5 L581.4 265.5 L581.5 267.5 L581.5 269.5 L581.5 271.5 L581.5 273.5 L581.6 275.5 L581.6 277.5 L581.6 279.5 L581.6 281.5 L581.6 283.5 L581.6 285.5 L581.6 287.5 L581.6 289.5 L581.6 291.5 L581.6 293.5 L581.6 295.5 L581.6 297.5 L581.6 299.5 L581.7 301.5 L581.8 303.5 L581.9 305.5 L582.1 307.5 L582.3 309.5 L582.5 311.5 L582.7 313.5 L583.0 315.5 L583.2 317.5 L583.4 319.5 L583.7 321.5 L583.9 323.5 L584.2 325.5 L584.4 327.5 L584.7 329.5 L585.0 331.5 L585.3 333.5 L585.6 335.5 L586.0 337.5 L586.4 339.5 L586.8 341.5 L587.2 343.5 L587.6 345.5 L587.9 347.5 L588.2 349.5 L588.4 351.5 L588.6 353.5 L588.8 355.5 L589.0 357.5 L589.2 359.5 L589.3 361.5 L589.4 363.5 L589.4 365.5 L589.4 367.5 L589.4 369.5 L589.3 371.5 L589.1 373.5 L588.9 375.5 L588.7 377.5 L588.4 379.5 L588.1 381.5 L587.8 383.5 L587.4 385.5 L587.0 387.5 L586.5 389.5 L585.9 391.5 L585.3 393.5 L584.8 395.5 L584.2 397.5 L583.8 399.5 L583.3 401.5 L582.9 403.5 L582.6 405.5 L582.2 407.5 L581.9 409.5 L581.6 411.5 L581.3 413.5 L581.1 415.5 L580.8 417.5 L580.6 419.5 L580.4 421.5 L580.2 423.5 L580.1 425.5 L579.9 427.5 L579.8 429.5 L579.6 431.5 L579.5 433.5 L579.4 435.5 L579.2 437.5 L579.1 439.5 L579.0 441.5 L578.9 443.5 L578.8 445.5 L578.7 447.5 L578.7 449.5 L578.6 451.5 L578.6 453.5 L578.5 455.5 L578.5 457.5 L578.4 459.5 L578.4 461.5 L578.3 463.5 L578.3 465.5 L578.2 467.5 L578.2 469.5 L578.2 471.5 L578.1 473.5 L578.1 475.5 L578.1 477.5 L578.0 479.5 L578.0 481.5 L578.0 483.5 L578.0 485.5 L578.0 487.5 L578.0 489.5 L578.0 491.5 L578.0 493.5 L578.0 494.5 L578.0 494.5 L578.0 493.5 L578.0 491.5 L578.0 489.5 L578.0 487.5 L578.0 485.5 L578.0 483.5 L578.0 481.5 L578.0 479.5 L577.9 477.5 L577.9 475.5 L577.9 473.5 L577.8 471.5 L577.8 469.5 L577.8 467.5 L577.7 465.5 L577.7 463.5 L577.6 461.5 L577.6 459.5 L577.5 457.5 L577.5 455.5 L577.4 453.5 L577.4 451.5 L577.3 449.5 L577.3 447.5 L577.2 445.5 L577.1 443.5 L577.0 441.5 L576.9 439.5 L576.8 437.5 L576.6 435.5 L576.5 433.5 L576.4 431.5 L576.2 429.5 L576.1 427.5 L575.9 425.5 L575.8 423.5 L575.6 421.5 L575.4 419.5 L575.2 417.5 L574.9 415.5 L574.7 413.5 L574.4 411.5 L574.1 409.5 L573.8 407.5 L573.4 405.5 L573.1 403.5 L572.7 401.5 L572.2 399.5 L571.8 397.5 L571.2 395.5 L570.7 393.5 L570.1 391.5 L569.5 389.5 L569.0 387.5 L568.6 385.5 L568.2 383.5 L567.9 381.5 L567.6 379.5 L567.3 377.5 L567.1 375.5 L566.9 373.5 L566.7 371.5 L566.6 369.5 L566.6 367.5 L566.6 365.5 L566.6 363.5 L566.7 361.5 L566.8 359.5 L567.0 357.5 L567.2 355.5 L567.4 353.5 L567.6 351.5 L567.8 349.5 L568.1 347.5 L568.4 345.5 L568.8 343.5 L569.2 341.5 L569.6 339.5 L570.0 337.5 L570.4 335.5 L570.7 333.5 L571.0 331.5 L571.3 329.5 L571.6 327.5 L571.8 325.5 L572.1 323.5 L572.3 321.5 L572.6 319.5 L572.8 317.5 L573.0 315.5 L573.3 313.5 L573.5 311.5 L573.7 309.5 L573.9 307.5 L574.1 305.5 L574.2 303.5 L574.3 301.5 L574.4 299.5 L574.4 297.5 L574.4 295.5 L574.4 293.5 L574.4 291.5 L574.4 289.5 L574.4 287.5 L574.4 285.5 L574.4 283.5 L574.4 281.5 L574.4 279.5 L574.4 277.5 L574.4 275.5 L574.5 273.5 L574.5 271.5 L574.5 269.5 L574.5 267.5 L574.6 265.5 L574.6 263.5 L574.6 261.5 L574.6 259.5 L574.7 257.5 L574.7 255.5 L574.8 253.5 L574.8 251.5 L574.9 249.5 L575.0 247.5 L575.1 245.5 L575.2 243.5 L575.3 241.5 L575.4 239.5 L575.6 237.5 L575.7 235.5 L575.8 233.5 L576.0 231.5 L576.1 229.5 L576.3 227.5 L576.4 225.5 L576.6 223.5 L576.7 221.5 L576.8 219.5 L577.0 217.5 L577.1 215.5 L577.2 213.5 L577.3 211.5 L577.4 209.5 L577.5 207.5 L577.7 205.5 L577.8 203.5 L577.9 201.5 L577.9 199.5 Z" fill="#00BF7D" stroke="#333333" stroke-width="2.84" stroke-linejoin="round"/>
<path d="M630.2 628.0 L630.3 630.0 L630.3 632.0 L630.4 634.0 L630.5 636.0 L630.6 638.0 L630.8 640.0 L631.1 642.0 L631.7 644.0 L632.6 646.0 L633.7 648.0 L634.7 650.0 L635.6 652.0 L636.5 654.0 L637.3 656.0 L638.0 658.0 L638.6 660.0 L639.2 662.0 L639.7 664.0 L640.2 666.0 L640.6 668.0 L640.9 670.0 L641.3 672.0 L641.6 674.0 L641.9 676.0 L642.1 678.0 L642.2 680.0 L642.3 682.0 L642.3 684.0 L642.1 686.0 L641.8 688.0 L641.5 690.0 L641.0 692.0 L640.5 694.0 L640.0 696.0 L639.5 698.0 L639.0 700.0 L638.5 702.0 L638.0 704.0 L637.5 706.0 L636.9 708.0 L636.4 710.0 L635.9 712.0 L635.5 714.0 L635.3 716.0 L635.2 718.0 L635.4 720.0 L635.7 722.0 L636.1 724.0 L636.6 726.0 L637.2 728.0 L637.7 730.0 L638.3 732.0 L638.8 734.0 L639.3 736.0 L639.9 738.0 L640.5 740.0 L641.0 742.0 L641.5 744.0 L641.9 746.0 L642.2 748.0 L642.3 750.0 L642.2 752.0 L642.1 754.0 L641.9 756.0 L641.6 758.0 L641.2 760.0 L640.8 762.0 L640.3 764.0 L639.6 766.0 L638.8 768.0 L637.9 770.0 L637.1 772.0 L636.2 774.0 L635.5 776.0 L634.7 778.0 L634.0 780.0 L633.3 782.0 L632.7 784.0 L632.0 786.0 L631.5 788.0 L631.0 790.0 L630.8 792.0 L630.6 794.0 L630.5 796.0 L630.4 798.0 L630.4 800.0 L630.3 802.0 L630.3 804.0 L630.2 806.0 L630.2 807.5 L630.2 807.5 L630.1 806.0 L630.1 804.0 L630.1 802.0 L630.0 800.0 L630.0 798.0 L629.9 796.0 L629.8 794.0 L629.6 792.0 L629.3 790.0 L628.9 788.0 L628.3 786.0 L627.7 784.0 L627.1 782.0 L626.4 780.0 L625.7 778.0 L624.9 776.0 L624.1 774.0 L623.3 772.0 L622.4 770.0 L621.5 768.0 L620.7 766.0 L620.1 764.0 L619.6 762.0 L619.1 760.0 L618.8 758.0 L618.5 756.0 L618.3 754.0 L618.1 752.0 L618.1 750.0 L618.2 748.0 L618.5 746.0 L618.9 744.0 L619.4 742.0 L619.9 740.0 L620.5 738.0 L621.0 736.0 L621.6 734.0 L622.1 732.0 L622.7 730.0 L623.2 728.0 L623.8 726.0 L624.3 724.0 L624.7 722.0 L625.0 720.0 L625.1 718.0 L625.1 716.0 L624.9 714.0 L624.5 712.0 L624.0 710.0 L623.5 708.0 L622.9 706.0 L622.4 704.0 L621.8 702.0 L621.3 700.0 L620.8 698.0 L620.3 696.0 L619.8 694.0 L619.3 692.0 L618.9 690.0 L618.5 688.0 L618.3 686.0 L618.1 684.0 L618.1 682.0 L618.1 680.0 L618.3 678.0 L618.5 676.0 L618.8 674.0 L619.1 672.0 L619.4 670.0 L619.8 668.0 L620.2 666.0 L620.7 664.0 L621.2 662.0 L621.7 660.0 L622.4 658.0 L623.1 656.0 L623.9 654.0 L624.7 652.0 L625.7 650.0 L626.7 648.0 L627.8 646.0 L628.7 644.0 L629.3 642.0 L629.6 640.0 L629.8 638.0 L629.9 636.0 L630.0 634.0 L630.0 632.0 L630.1 630.0 L630.1 628.0 Z" fill="#00C0AF" stroke="#333333" stroke-width="2.84" stroke-linejoin="round"/>
<path d="M682.4 255.2 L682.4 257.2 L682.4 259.2 L682.4 261.2 L682.4 263.2 L682.4 265.2 L682.4 267.2 L682.4 269.2 L682.4 271.2 L682.4 273.2 L682.4 275.2 L682.4 277.2 L682.4 279.2 L682.4 281.2 L682.4 283.2 L682.5 285.2 L682.5 287.2 L682.5 289.2 L682.6 291.2 L682.7 293.2 L682.7 295.2 L682.8 297.2 L682.9 299.2 L682.9 301.2 L683.0 303.2 L683.1 305.2 L683.1 307.2 L683.2 309.2 L683.3 311.2 L683.3 313.2 L683.4 315.2 L683.5 317.2 L683.6 319.2 L683.7 321.2 L683.8 323.2 L684.0 325.2 L684.2 327.2 L684.3 329.2 L684.5 331.2 L684.7 333.2 L684.8 335.2 L684.9 337.2 L685.0 339.2 L685.0 341.2 L685.1 343.2 L685.1 345.2 L685.2 347.2 L685.2 349.2 L685.3 351.2 L685.3 353.2 L685.3 355.2 L685.4 357.2 L685.4 359.2 L685.4 361.2 L685.4 363.2 L685.4 365.2 L685.4 367.2 L685.4 369.2 L685.4 371.2 L685.4 373.2 L685.4 375.2 L685.4 377.2 L685.4 379.2 L685.3 381.2 L685.3 383.2 L685.2 385.2 L685.1 387.2 L684.9 389.2 L684.8 391.2 L684.6 393.2 L684.5 395.2 L684.4 397.2 L684.2 399.2 L684.0 401.2 L683.9 403.2 L683.7 405.2 L683.5 407.2 L683.4 409.2 L683.3 411.2 L683.2 413.2 L683.1 415.2 L683.0 417.2 L683.0 419.2 L682.9 421.2 L682.9 423.2 L682.8 425.2 L682.8 427.2 L682.7 429.2 L682.7 431.2 L682.7 433.2 L682.7 435.2 L682.7 437.2 L682.6 439.2 L682.6 441.2 L682.6 443.2 L682.6 445.2 L682.6 447.2 L682.6 449.2 L682.5 451.2 L682.5 453.2 L682.5 455.2 L682.5 457.2 L682.5 459.2 L682.5 461.2 L682.5 463.2 L682.5 465.2 L682.5 467.2 L682.5 469.2 L682.5 471.2 L682.5 473.2 L682.5 475.2 L682.5 477.2 L682.5 479.2 L682.5 481.2 L682.5 483.2 L682.5 485.2 L682.4 487.2 L682.4 489.2 L682.4 491.2 L682.4 493.2 L682.4 495.2 L682.4 497.2 L682.4 499.2 L682.4 501.2 L682.4 503.2 L682.4 505.2 L682.4 507.2 L682.4 509.2 L682.4 511.2 L682.4 513.2 L682.4 515.2 L682.4 517.2 L682.4 519.2 L682.4 521.2 L682.4 523.2 L682.4 525.2 L682.4 527.2 L682.5 529.2 L682.5 531.2 L682.5 533.2 L682.5 535.2 L682.6 537.2 L682.6 539.2 L682.7 541.2 L682.8 543.2 L682.9 545.2 L683.1 547.2 L683.3 549.2 L683.5 551.2 L683.7 553.2 L683.9 555.2 L684.1 557.2 L684.4 559.2 L684.6 561.2 L684.9 563.2 L685.2 565.2 L685.5 567.2 L685.8 569.2 L686.1 571.2 L686.4 573.2 L686.7 575.2 L687.0 577.2 L687.4 579.2 L687.7 581.2 L688.0 583.2 L688.3 585.2 L688.6 587.2 L688.8 589.2 L689.1 591.2 L689.3 593.2 L689.5 595.2 L689.8 597.2 L690.0 599.2 L690.1 601.2 L690.3 603.2 L690.4 605.2 L690.5 607.2 L690.6 609.2 L690.7 611.2 L690.8 613.2 L690.9 615.2 L690.9 617.2 L690.9 619.2 L691.0 621.2 L691.0 623.2 L690.9 625.2 L690.9 627.2 L690.8 629.2 L690.8 631.2 L690.7 633.2 L690.6 635.2 L690.5 637.2 L690.4 639.2 L690.2 641.2 L690.1 643.2 L689.9 645.2 L689.7 647.2 L689.5 649.2 L689.3 651.2 L689.1 653.2 L688.9 655.2 L688.7 657.2 L688.4 659.2 L688.2 661.2 L687.9 663.2 L687.6 665.2 L687.4 667.2 L687.1 669.2 L686.8 671.2 L686.5 673.2 L686.3 675.2 L686.0 677.2 L685.7 679.2 L685.4 681.2 L685.1 683.2 L684.8 685.2 L684.6 687.2 L684.3 689.2 L684.1 691.2 L683.9 693.2 L683.8 695.2 L683.7 697.2 L683.5 699.2 L683.4 701.2 L683.3 703.2 L683.2 705.2 L683.1 707.2 L683.0 709.2 L682.9 711.2 L682.9 713.2 L682.8 715.2 L682.8 717.2 L682.7 719.2 L682.7 721.2 L682.7 723.2 L682.7 725.2 L682.6 727.2 L682.6 729.2 L682.6 731.2 L682.6 733.2 L682.6 735.2 L682.5 737.2 L682.5 739.2 L682.5 741.2 L682.5 743.2 L682.5 745.2 L682.5 747.2 L682.5 749.2 L682.5 751.2 L682.4 753.2 L682.4 755.2 L682.4 757.2 L682.4 759.2 L682.4 761.2 L682.4 763.2 L682.4 765.2 L682.4 767.2 L682.4 769.2 L682.4 769.2 L682.4 767.2 L682.4 765.2 L682.3 763.2 L682.3 761.2 L682.3 759.2 L682.3 757.2 L682.3 755.2 L682.3 753.2 L682.3 751.2 L682.3 749.2 L682.3 747.2 L682.3 745.2 L682.2 743.2 L682.2 741.2 L682.2 739.2 L682.2 737.2 L682.2 735.2 L682.2 733.2 L682.2 731.2 L682.1 729.2 L682.1 727.2 L682.1 725.2 L682.1 723.2 L682.0 721.2 L682.0 719.2 L682.0 717.2 L681.9 715.2 L681.9 713.2 L681.8 711.2 L681.7 709.2 L681.6 707.2 L681.5 705.2 L681.4 703.2 L681.3 701.2 L681.2 699.2 L681.1 697.2 L681.0 695.2 L680.8 693.2 L680.6 691.2 L680.4 689.2 L680.2 687.2 L679.9 685.2 L679.7 683.2 L679.4 681.2 L679.1 679.2 L678.8 677.2 L678.5 675.2 L678.2 673.2 L677.9 671.2 L677.7 669.2 L677.4 667.2 L677.1 665.2 L676.9 663.2 L676.6 661.2 L676.3 659.2 L676.1 657.2 L675.8 655.2 L675.6 653.2 L675.4 651.2 L675.2 649.2 L675.0 647.2 L674.8 645.2 L674.7 643.2 L674.5 641.2 L674.4 639.2 L674.2 637.2 L674.2 635.2 L674.1 633.2 L674.0 631.2 L673.9 629.2 L673.9 627.2 L673.8 625.2 L673.8 623.2 L673.8 621.2 L673.8 619.2 L673.8 617.2 L673.9 615.2 L674.0 613.2 L674.0 611.2 L674.1 609.2 L674.2 607.2 L674.3 605.2 L674.5 603.2 L674.6 601.2 L674.8 599.2 L675.0 597.2 L675.2 595.2 L675.4 593.2 L675.7 591.2 L675.9 589.2 L676.2 587.2 L676.5 585.2 L676.8 583.2 L677.1 581.2 L677.4 579.2 L677.7 577.2 L678.0 575.2 L678.3 573.2 L678.6 571.2 L678.9 569.2 L679.2 567.2 L679.5 565.2 L679.8 563.2 L680.1 561.2 L680.4 559.2 L680.6 557.2 L680.9 555.2 L681.1 553.2 L681.3 551.2 L681.5 549.2 L681.7 547.2 L681.8 545.2 L681.9 543.2 L682.0 541.2 L682.1 539.2 L682.2 537.2 L682.2 535.2 L682.2 533.2 L682.3 531.2 L682.3 529.2 L682.3 527.2 L682.3 525.2 L682.3 523.2 L682.3 521.2 L682.3 519.2 L682.3 517.2 L682.3 515.2 L682.3 513.2 L682.3 511.2 L682.3 509.2 L682.3 507.2 L682.3 505.2 L682.3 503.2 L682.3 501.2 L682.3 499.2 L682.3 497.2 L682.3 495.2 L682.3 493.2 L682.3 491.2 L682.3 489.2 L682.3 487.2 L682.3 485.2 L682.3 483.2 L682.3 481.2 L682.3 479.2 L682.3 477.2 L682.3 475.2 L682.3 473.2 L682.3 471.2 L682.3 469.2 L682.3 467.2 L682.3 465.2 L682.3 463.2 L682.3 461.2 L682.2 459.2 L682.2 457.2 L682.2 455.2 L682.2 453.2 L682.2 451.2 L682.2 449.2 L682.2 447.2 L682.2 445.2 L682.1 443.2 L682.1 441.2 L682.1 439.2 L682.1 437.2 L682.1 435.2 L682.0 433.2 L682.0 431.2 L682.0 429.2 L682.0 427.2 L681.9 425.2 L681.9 423.2 L681.8 421.2 L681.8 419.2 L681.7 417.2 L681.6 415.2 L681.6 413.2 L681.5 411.2 L681.3 409.2 L681.2 407.2 L681.1 405.2 L680.9 403.2 L680.7 401.2 L680.6 399.2 L680.4 397.2 L680.2 395.2 L680.1 393.2 L680.0 391.2 L679.8 389.2 L679.7 387.2 L679.6 385.2 L679.5 383.2 L679.4 381.2 L679.4 379.2 L679.4 377.2 L679.4 375.2 L679.4 373.2 L679.4 371.2 L679.4 369.2 L679.4 367.2 L679.4 365.2 L679.4 363.2 L679.4 361.2 L679.4 359.2 L679.4 357.2 L679.4 355.2 L679.4 353.2 L679.5 351.2 L679.5 349.2 L679.6 347.2 L679.6 345.2 L679.7 343.2 L679.7 341.2 L679.8 339.2 L679.9 337.2 L680.0 335.2 L680.1 333.2 L680.2 331.2 L680.4 329.2 L680.6 327.2 L680.8 325.2 L680.9 323.2 L681.0 321.2 L681.1 319.2 L681.2 317.2 L681.3 315.2 L681.4 313.2 L681.5 311.2 L681.5 309.2 L681.6 307.2 L681.7 305.2 L681.7 303.2 L681.8 301.2 L681.9 299.2 L682.0 297.2 L682.0 295.2 L682.1 293.2 L682.2 291.2 L682.2 289.2 L682.3 287.2 L682.3 285.2 L682.3 283.2 L682.3 281.2 L682.3 279.2 L682.3 277.2 L682.3 275.2 L682.3 273.2 L682.4 271.2 L682.4 269.2 L682.4 267.2 L682.4 265.2 L682.4 263.2 L682.4 261.2 L682.4 259.2 L682.4 257.2 L682.4 255.2 Z" fill="#00BCD8" stroke="#333333" stroke-width="2.84" stroke-linejoin="round"/>
<path d="M734.6 190.6 L734.6 192.6 L734.6 194.6 L734.6 196.6 L734.7 198.6 L734.7 200.6 L734.7 202.6 L734.7 204.6 L734.7 206.6 L734.8 208.6 L734.8 210.6 L734.8 212.6 L734.9 214.6 L734.9 216.6 L734.9 218.6 L735.0 220.6 L735.0 222.6 L735.1 224.6 L735.1 226.6 L735.2 228.6 L735.2 230.6 L735.3 232.6 L735.4 234.6 L735.4 236.6 L735.5 238.6 L735.6 240.6 L735.8 242.6 L735.9 244.6 L736.0 246.6 L736.1 248.6 L736.3 250.6 L736.4 252.6 L736.5 254.6 L736.6 256.6 L736.7 258.6 L736.9 260.6 L737.0 262.6 L737.1 264.6 L737.2 266.6 L737.3 268.6 L737.5 270.6 L737.6 272.6 L737.7 274.6 L737.8 276.6 L738.0 278.6 L738.1 280.6 L738.2 282.6 L738.3 284.6 L738.4 286.6 L738.6 288.6 L738.7 290.6 L738.8 292.6 L738.9 294.6 L739.0 296.6 L739.1 298.6 L739.3 300.6 L739.4 302.6 L739.5 304.6 L739.7 306.6 L739.8 308.6 L740.0 310.6 L740.1 312.6 L740.3 314.6 L740.5 316.6 L740.8 318.6 L741.1 320.6 L741.3 322.6 L741.6 324.6 L741.9 326.6 L742.2 328.6 L742.5 330.6 L742.7 332.6 L742.9 334.6 L743.2 336.6 L743.3 338.6 L743.5 340.6 L743.7 342.6 L743.9 344.6 L744.0 346.6 L744.2 348.6 L744.3 350.6 L744.4 352.6 L744.4 354.6 L744.5 356.6 L744.5 358.6 L744.5 360.6 L744.5 362.6 L744.5 364.6 L744.6 366.6 L744.5 368.6 L744.5 370.6 L744.5 372.6 L744.3 374.6 L744.2 376.6 L744.0 378.6 L743.8 380.6 L743.6 382.6 L743.3 384.6 L743.1 386.6 L742.8 388.6 L742.5 390.6 L742.1 392.6 L741.8 394.6 L741.5 396.6 L741.1 398.6 L740.8 400.6 L740.5 402.6 L740.1 404.6 L739.8 406.6 L739.5 408.6 L739.1 410.6 L738.8 412.6 L738.5 414.6 L738.1 416.6 L737.7 418.6 L737.4 420.6 L737.0 422.6 L736.7 424.6 L736.4 426.6 L736.1 428.6 L735.9 430.6 L735.7 432.6 L735.5 434.6 L735.3 436.6 L735.2 438.6 L735.0 440.6 L735.0 442.6 L734.9 444.6 L734.9 446.6 L734.8 448.6 L734.8 450.6 L734.8 452.6 L734.7 454.6 L734.7 456.6 L734.7 458.6 L734.7 460.6 L734.6 462.6 L734.6 464.6 L734.6 466.6 L734.6 467.6 L734.5 467.6 L734.5 466.6 L734.5 464.6 L734.5 462.6 L734.5 460.6 L734.4 458.6 L734.4 456.6 L734.4 454.6 L734.4 452.6 L734.3 450.6 L734.3 448.6 L734.3 446.6 L734.2 444.6 L734.2 442.6 L734.1 440.6 L734.0 438.6 L733.8 436.6 L733.6 434.6 L733.4 432.6 L733.2 430.6 L733.0 428.6 L732.7 426.6 L732.4 424.6 L732.1 422.6 L731.8 420.6 L731.4 418.6 L731.0 416.6 L730.7 414.6 L730.3 412.6 L730.0 410.6 L729.6 408.6 L729.3 406.6 L729.0 404.6 L728.7 402.6 L728.3 400.6 L728.0 398.6 L727.7 396.6 L727.3 394.6 L727.0 392.6 L726.7 390.6 L726.3 388.6 L726.0 386.6 L725.8 384.6 L725.5 382.6 L725.3 380.6 L725.1 378.6 L724.9 376.6 L724.8 374.6 L724.7 372.6 L724.6 370.6 L724.6 368.6 L724.6 366.6 L724.6 364.6 L724.6 362.6 L724.6 360.6 L724.6 358.6 L724.7 356.6 L724.7 354.6 L724.7 352.6 L724.8 350.6 L724.9 348.6 L725.1 346.6 L725.2 344.6 L725.4 342.6 L725.6 340.6 L725.8 338.6 L726.0 336.6 L726.2 334.6 L726.4 332.6 L726.7 330.6 L726.9 328.6 L727.2 326.6 L727.5 324.6 L727.8 322.6 L728.1 320.6 L728.3 318.6 L728.6 316.6 L728.8 314.6 L729.0 312.6 L729.2 310.6 L729.3 308.6 L729.5 306.6 L729.6 304.6 L729.7 302.6 L729.9 300.6 L730.0 298.6 L730.1 296.6 L730.2 294.6 L730.3 292.6 L730.5 290.6 L730.6 288.6 L730.7 286.6 L730.8 284.6 L730.9 282.6 L731.0 280.6 L731.2 278.6 L731.3 276.6 L731.4 274.6 L731.5 272.6 L731.7 270.6 L731.8 268.6 L731.9 266.6 L732.0 264.6 L732.1 262.6 L732.3 260.6 L732.4 258.6 L732.5 256.6 L732.6 254.6 L732.7 252.6 L732.9 250.6 L733.0 248.6 L733.1 246.6 L733.2 244.6 L733.4 242.6 L733.5 240.6 L733.6 238.6 L733.7 236.6 L733.8 234.6 L733.8 232.6 L733.9 230.6 L734.0 228.6 L734.0 226.6 L734.1 224.6 L734.1 222.6 L734.2 220.6 L734.2 218.6 L734.2 216.6 L734.3 214.6 L734.3 212.6 L734.3 210.6 L734.4 208.6 L734.4 206.6 L734.4 204.6 L734.4 202.6 L734.4 200.6 L734.5 198.6 L734.5 196.6 L734.5 194.6 L734.5 192.6 L734.6 190.6 Z" fill="#00B0F6" stroke="#333333" stroke-width="2.84" stroke-linejoin="round"/>
<path d="M786.8 99.2 L786.8 101.2 L786.8 103.2 L786.8 105.2 L786.8 107.2 L786.8 109.2 L786.9 111.2 L786.9 113.2 L786.9 115.2 L786.9 117.2 L786.9 119.2 L786.9 121.2 L787.0 123.2 L787.0 125.2 L787.0 127.2 L787.0 129.2 L787.0 131.2 L787.1 133.2 L787.1 135.2 L787.1 137.2 L787.1 139.2 L787.2 141.2 L787.2 143.2 L787.3 145.2 L787.4 147.2 L787.5 149.2 L787.5 151.2 L787.6 153.2 L787.7 155.2 L787.9 157.2 L788.0 159.2 L788.1 161.2 L788.3 163.2 L788.5 165.2 L788.6 167.2 L788.8 169.2 L789.0 171.2 L789.2 173.2 L789.3 175.2 L789.5 177.2 L789.6 179.2 L789.7 181.2 L789.8 183.2 L789.9 185.2 L790.0 187.2 L790.1 189.2 L790.1 191.2 L790.2 193.2 L790.3 195.2 L790.4 197.2 L790.4 199.2 L790.5 201.2 L790.6 203.2 L790.6 205.2 L790.7 207.2 L790.7 209.2 L790.7 211.2 L790.8 213.2 L790.8 215.2 L790.8 217.2 L790.8 219.2 L790.8 221.2 L790.8 223.2 L790.8 225.2 L790.8 227.2 L790.8 229.2 L790.8 231.2 L790.8 233.2 L790.8 235.2 L790.7 237.2 L790.7 239.2 L790.6 241.2 L790.6 243.2 L790.5 245.2 L790.4 247.2 L790.4 249.2 L790.3 251.2 L790.2 253.2 L790.2 255.2 L790.1 257.2 L790.0 259.2 L789.9 261.2 L789.8 263.2 L789.8 265.2 L789.7 267.2 L789.7 269.2 L789.6 271.2 L789.6 273.2 L789.6 275.2 L789.6 277.2 L789.7 279.2 L789.8 281.2 L789.9 283.2 L790.0 285.2 L790.1 287.2 L790.3 289.2 L790.4 291.2 L790.6 293.2 L790.7 295.2 L790.9 297.2 L791.0 299.2 L791.1 301.2 L791.2 303.2 L791.2 305.2 L791.3 307.2 L791.4 309.2 L791.4 311.2 L791.5 313.2 L791.6 315.2 L791.6 317.2 L791.7 319.2 L791.8 321.2 L792.0 323.2 L792.1 325.2 L792.2 327.2 L792.4 329.2 L792.5 331.2 L792.6 333.2 L792.7 335.2 L792.8 337.2 L792.9 339.2 L792.9 341.2 L793.0 343.2 L793.1 345.2 L793.1 347.2 L793.2 349.2 L793.2 351.2 L793.2 353.2 L793.2 355.2 L793.2 357.2 L793.2 359.2 L793.2 361.2 L793.2 363.2 L793.1 365.2 L793.1 367.2 L793.0 369.2 L793.0 371.2 L792.9 373.2 L792.8 375.2 L792.7 377.2 L792.6 379.2 L792.5 381.2 L792.3 383.2 L792.1 385.2 L791.9 387.2 L791.6 389.2 L791.4 391.2 L791.1 393.2 L790.9 395.2 L790.7 397.2 L790.5 399.2 L790.3 401.2 L790.1 403.2 L790.0 405.2 L789.8 407.2 L789.6 409.2 L789.5 411.2 L789.3 413.2 L789.1 415.2 L788.9 417.2 L788.7 419.2 L788.5 421.2 L788.4 423.2 L788.2 425.2 L788.0 427.2 L787.9 429.2 L787.8 431.2 L787.7 433.2 L787.5 435.2 L787.4 437.2 L787.4 439.2 L787.3 441.2 L787.2 443.2 L787.2 445.2 L787.2 447.2 L787.1 449.2 L787.1 451.2 L787.1 453.2 L787.1 455.2 L787.0 457.2 L787.0 459.2 L787.0 461.2 L787.0 463.2 L787.0 465.2 L786.9 467.2 L786.9 469.2 L786.9 471.2 L786.9 473.2 L786.9 475.2 L786.9 477.2 L786.9 479.2 L786.9 481.2 L786.9 483.2 L786.9 485.2 L786.8 487.2 L786.8 489.2 L786.8 491.2 L786.8 493.2 L786.8 495.2 L786.8 497.2 L786.8 499.2 L786.8 501.2 L786.8 503.2 L786.8 505.2 L786.8 507.2 L786.8 509.2 L786.8 511.2 L786.8 513.2 L786.8 515.2 L786.8 517.2 L786.8 519.2 L786.8 521.2 L786.8 522.2 L786.7 522.2 L786.7 521.2 L786.7 519.2 L786.7 517.2 L786.7 515.2 L786.7 513.2 L786.7 511.2 L786.7 509.2 L786.7 507.2 L786.7 505.2 L786.7 503.2 L786.7 501.2 L786.7 499.2 L786.7 497.2 L786.7 495.2 L786.7 493.2 L786.7 491.2 L786.7 489.2 L786.7 487.2 L786.6 485.2 L786.6 483.2 L786.6 481.2 L786.6 479.2 L786.6 477.2 L786.6 475.2 L786.6 473.2 L786.6 471.2 L786.6 469.2 L786.6 467.2 L786.5 465.2 L786.5 463.2 L786.5 461.2 L786.5 459.2 L786.5 457.2 L786.4 455.2 L786.4 453.2 L786.4 451.2 L786.4 449.2 L786.3 447.2 L786.3 445.2 L786.3 443.2 L786.2 441.2 L786.1 439.2 L786.1 437.2 L786.0 435.2 L785.8 433.2 L785.7 431.2 L785.6 429.2 L785.5 427.2 L785.3 425.2 L785.1 423.2 L785.0 421.2 L784.8 419.2 L784.6 417.2 L784.4 415.2 L784.2 413.2 L784.0 411.2 L783.9 409.2 L783.7 407.2 L783.5 405.2 L783.4 403.2 L783.2 401.2 L783.0 399.2 L782.8 397.2 L782.6 395.2 L782.4 393.2 L782.1 391.2 L781.9 389.2 L781.6 387.2 L781.4 385.2 L781.2 383.2 L781.0 381.2 L780.9 379.2 L780.8 377.2 L780.7 375.2 L780.6 373.2 L780.5 371.2 L780.5 369.2 L780.4 367.2 L780.4 365.2 L780.3 363.2 L780.3 361.2 L780.3 359.2 L780.3 357.2 L780.3 355.2 L780.3 353.2 L780.3 351.2 L780.3 349.2 L780.4 347.2 L780.4 345.2 L780.5 343.2 L780.6 341.2 L780.6 339.2 L780.7 337.2 L780.8 335.2 L780.9 333.2 L781.0 331.2 L781.1 329.2 L781.3 327.2 L781.4 325.2 L781.5 323.2 L781.7 321.2 L781.8 319.2 L781.9 317.2 L781.9 315.2 L782.0 313.2 L782.1 311.2 L782.1 309.2 L782.2 307.2 L782.3 305.2 L782.3 303.2 L782.4 301.2 L782.5 299.2 L782.6 297.2 L782.8 295.2 L782.9 293.2 L783.1 291.2 L783.2 289.2 L783.4 287.2 L783.5 285.2 L783.6 283.2 L783.7 281.2 L783.8 279.2 L783.9 277.2 L783.9 275.2 L783.9 273.2 L783.9 271.2 L783.8 269.2 L783.8 267.2 L783.7 265.2 L783.7 263.2 L783.6 261.2 L783.5 259.2 L783.4 257.2 L783.3 255.2 L783.3 253.2 L783.2 251.2 L783.1 249.2 L783.1 247.2 L783.0 245.2 L782.9 243.2 L782.9 241.2 L782.8 239.2 L782.8 237.2 L782.7 235.2 L782.7 233.2 L782.7 231.2 L782.7 229.2 L782.7 227.2 L782.7 225.2 L782.7 223.2 L782.7 221.2 L782.7 219.2 L782.7 217.2 L782.7 215.2 L782.7 213.2 L782.8 211.2 L782.8 209.2 L782.8 207.2 L782.9 205.2 L782.9 203.2 L783.0 201.2 L783.1 199.2 L783.1 197.2 L783.2 195.2 L783.3 193.2 L783.4 191.2 L783.4 189.2 L783.5 187.2 L783.6 185.2 L783.7 183.2 L783.8 181.2 L783.9 179.2 L784.0 177.2 L784.2 175.2 L784.3 173.2 L784.5 171.2 L784.7 169.2 L784.9 167.2 L785.0 165.2 L785.2 163.2 L785.4 161.2 L785.5 159.2 L785.6 157.2 L785.8 155.2 L785.9 153.2 L786.0 151.2 L786.0 149.2 L786.1 147.2 L786.2 145.2 L786.3 143.2 L786.3 141.2 L786.4 139.2 L786.4 137.2 L786.4 135.2 L786.4 133.2 L786.5 131.2 L786.5 129.2 L786.5 127.2 L786.5 125.2 L786.5 123.2 L786.6 121.2 L786.6 119.2 L786.6 117.2 L786.6 115.2 L786.6 113.2 L786.6 111.2 L786.7 109.2 L786.7 107.2 L786.7 105.2 L786.7 103.2 L786.7 101.2 L786.7 99.2 Z" fill="#619CFF" stroke="#333333" stroke-width="2.84" stroke-linejoin="round"/>
<path d="M891.1 133.0 L891.1 135.0 L891.1 137.0 L891.2 139.0 L891.2 141.0 L891.2 143.0 L891.2 145.0 L891.2 147.0 L891.2 149.0 L891.2 151.0 L891.3 153.0 L891.3 155.0 L891.4 157.0 L891.5 159.0 L891.7 161.0 L891.9 163.0 L892.2 165.0 L892.6 167.0 L893.1 169.0 L893.6 171.0 L894.1 173.0 L894.6 175.0 L895.0 177.0 L895.5 179.0 L895.9 181.0 L896.3 183.0 L896.7 185.0 L897.1 187.0 L897.5 189.0 L897.8 191.0 L898.0 193.0 L898.3 195.0 L898.5 197.0 L898.7 199.0 L898.9 201.0 L899.0 203.0 L899.1 205.0 L899.2 207.0 L899.3 209.0 L899.4 211.0 L899.4 213.0 L899.4 215.0 L899.3 217.0 L899.2 219.0 L899.1 221.0 L898.9 223.0 L898.6 225.0 L898.3 227.0 L898.0 229.0 L897.7 231.0 L897.4 233.0 L897.2 235.0 L896.9 237.0 L896.6 239.0 L896.4 241.0 L896.1 243.0 L895.9 245.0 L895.6 247.0 L895.4 249.0 L895.3 251.0 L895.1 253.0 L895.0 255.0 L894.8 257.0 L894.7 259.0 L894.7 261.0 L894.7 263.0 L894.7 265.0 L894.7 267.0 L894.8 269.0 L895.0 271.0 L895.3 273.0 L895.6 275.0 L896.0 277.0 L896.4 279.0 L896.8 281.0 L897.2 283.0 L897.5 285.0 L897.8 287.0 L898.1 289.0 L898.3 291.0 L898.5 293.0 L898.7 295.0 L898.8 297.0 L898.9 299.0 L899.0 301.0 L899.1 303.0 L899.2 305.0 L899.2 307.0 L899.2 309.0 L899.2 311.0 L899.1 313.0 L899.0 315.0 L898.8 317.0 L898.7 319.0 L898.5 321.0 L898.4 323.0 L898.2 325.0 L898.0 327.0 L897.7 329.0 L897.4 331.0 L897.1 333.0 L896.8 335.0 L896.5 337.0 L896.1 339.0 L895.8 341.0 L895.4 343.0 L895.1 345.0 L894.7 347.0 L894.3 349.0 L894.0 351.0 L893.6 353.0 L893.3 355.0 L893.0 357.0 L892.7 359.0 L892.5 361.0 L892.2 363.0 L892.0 365.0 L891.8 367.0 L891.7 369.0 L891.6 371.0 L891.5 373.0 L891.4 375.0 L891.3 377.0 L891.3 379.0 L891.2 381.0 L891.2 383.0 L891.2 385.0 L891.2 387.0 L891.1 389.0 L891.1 391.0 L891.1 392.5 L891.1 392.5 L891.1 391.0 L891.1 389.0 L891.1 387.0 L891.1 385.0 L891.1 383.0 L891.0 381.0 L891.0 379.0 L890.9 377.0 L890.9 375.0 L890.8 373.0 L890.7 371.0 L890.6 369.0 L890.4 367.0 L890.2 365.0 L890.0 363.0 L889.8 361.0 L889.5 359.0 L889.2 357.0 L888.9 355.0 L888.6 353.0 L888.3 351.0 L887.9 349.0 L887.5 347.0 L887.2 345.0 L886.8 343.0 L886.5 341.0 L886.1 339.0 L885.8 337.0 L885.4 335.0 L885.1 333.0 L884.8 331.0 L884.5 329.0 L884.3 327.0 L884.1 325.0 L883.9 323.0 L883.7 321.0 L883.6 319.0 L883.4 317.0 L883.3 315.0 L883.2 313.0 L883.1 311.0 L883.1 309.0 L883.1 307.0 L883.1 305.0 L883.1 303.0 L883.2 301.0 L883.3 299.0 L883.4 297.0 L883.6 295.0 L883.7 293.0 L883.9 291.0 L884.2 289.0 L884.5 287.0 L884.8 285.0 L885.1 283.0 L885.4 281.0 L885.8 279.0 L886.2 277.0 L886.6 275.0 L887.0 273.0 L887.3 271.0 L887.4 269.0 L887.5 267.0 L887.6 265.0 L887.6 263.0 L887.6 261.0 L887.5 259.0 L887.4 257.0 L887.3 255.0 L887.2 253.0 L887.0 251.0 L886.8 249.0 L886.6 247.0 L886.4 245.0 L886.1 243.0 L885.9 241.0 L885.6 239.0 L885.4 237.0 L885.1 235.0 L884.8 233.0 L884.5 231.0 L884.2 229.0 L883.9 227.0 L883.6 225.0 L883.4 223.0 L883.2 221.0 L883.1 219.0 L883.0 217.0 L882.9 215.0 L882.9 213.0 L882.9 211.0 L882.9 209.0 L883.0 207.0 L883.1 205.0 L883.2 203.0 L883.4 201.0 L883.6 199.0 L883.8 197.0 L884.0 195.0 L884.2 193.0 L884.5 191.0 L884.8 189.0 L885.1 187.0 L885.5 185.0 L885.9 183.0 L886.3 181.0 L886.8 179.0 L887.2 177.0 L887.7 175.0 L888.2 173.0 L888.7 171.0 L889.2 169.0 L889.6 167.0 L890.0 165.0 L890.3 163.0 L890.6 161.0 L890.7 159.0 L890.8 157.0 L890.9 155.0 L891.0 153.0 L891.0 151.0 L891.0 149.0 L891.1 147.0 L891.1 145.0 L891.1 143.0 L891.1 141.0 L891.1 139.0 L891.1 137.0 L891.1 135.0 L891.1 133.0 Z" fill="#B983FF" stroke="#333333" stroke-width="2.84" stroke-linejoin="round"/>
<path d="M943.3 170.8 L943.3 172.8 L943.3 174.8 L943.3 176.8 L943.3 178.8 L943.3 180.8 L943.3 182.8 L943.3 184.8 L943.3 186.8 L943.3 188.8 L943.3 190.8 L943.3 192.8 L943.4 194.8 L943.4 196.8 L943.4 198.8 L943.4 200.8 L943.4 202.8 L943.4 204.8 L943.5 206.8 L943.5 208.8 L943.5 210.8 L943.6 212.8 L943.6 214.8 L943.7 216.8 L943.8 218.8 L943.8 220.8 L943.9 222.8 L944.0 224.8 L944.0 226.8 L944.1 228.8 L944.2 230.8 L944.3 232.8 L944.4 234.8 L944.5 236.8 L944.6 238.8 L944.7 240.8 L944.9 242.8 L945.0 244.8 L945.1 246.8 L945.3 248.8 L945.4 250.8 L945.5 252.8 L945.7 254.8 L945.8 256.8 L945.9 258.8 L946.1 260.8 L946.3 262.8 L946.4 264.8 L946.6 266.8 L946.7 268.8 L946.9 270.8 L947.0 272.8 L947.1 274.8 L947.2 276.8 L947.2 278.8 L947.3 280.8 L947.3 282.8 L947.4 284.8 L947.4 286.8 L947.4 288.8 L947.4 290.8 L947.4 292.8 L947.4 294.8 L947.5 296.8 L947.5 298.8 L947.5 300.8 L947.5 302.8 L947.5 304.8 L947.5 306.8 L947.5 308.8 L947.5 310.8 L947.5 312.8 L947.5 314.8 L947.5 316.8 L947.4 318.8 L947.4 320.8 L947.3 322.8 L947.3 324.8 L947.2 326.8 L947.1 328.8 L947.1 330.8 L947.0 332.8 L947.0 334.8 L946.9 336.8 L946.9 338.8 L946.8 340.8 L946.8 342.8 L946.8 344.8 L946.8 346.8 L946.9 348.8 L946.9 350.8 L946.9 352.8 L947.0 354.8 L947.0 356.8 L947.1 358.8 L947.1 360.8 L947.2 362.8 L947.2 364.8 L947.3 366.8 L947.4 368.8 L947.5 370.8 L947.5 372.8 L947.6 374.8 L947.7 376.8 L947.8 378.8 L947.9 380.8 L948.0 382.8 L948.1 384.8 L948.2 386.8 L948.4 388.8 L948.5 390.8 L948.6 392.8 L948.7 394.8 L948.8 396.8 L948.9 398.8 L949.0 400.8 L949.1 402.8 L949.2 404.8 L949.3 406.8 L949.4 408.8 L949.5 410.8 L949.5 412.8 L949.6 414.8 L949.7 416.8 L949.7 418.8 L949.8 420.8 L949.8 422.8 L949.8 424.8 L949.8 426.8 L949.8 428.8 L949.8 430.8 L949.8 432.8 L949.7 434.8 L949.7 436.8 L949.6 438.8 L949.5 440.8 L949.5 442.8 L949.4 444.8 L949.3 446.8 L949.2 448.8 L949.1 450.8 L948.9 452.8 L948.8 454.8 L948.7 456.8 L948.5 458.8 L948.4 460.8 L948.2 462.8 L948.1 464.8 L947.9 466.8 L947.7 468.8 L947.6 470.8 L947.4 472.8 L947.2 474.8 L947.0 476.8 L946.9 478.8 L946.7 480.8 L946.5 482.8 L946.3 484.8 L946.1 486.8 L945.9 488.8 L945.7 490.8 L945.5 492.8 L945.3 494.8 L945.1 496.8 L945.0 498.8 L944.8 500.8 L944.6 502.8 L944.5 504.8 L944.3 506.8 L944.2 508.8 L944.0 510.8 L943.9 512.8 L943.9 514.8 L943.8 516.8 L943.7 518.8 L943.7 520.8 L943.6 522.8 L943.6 524.8 L943.5 526.8 L943.5 528.8 L943.5 530.8 L943.4 532.8 L943.4 534.8 L943.4 536.8 L943.4 538.8 L943.4 540.8 L943.4 542.8 L943.4 544.8 L943.4 546.8 L943.3 548.8 L943.3 550.8 L943.3 552.8 L943.3 554.8 L943.3 556.8 L943.3 558.8 L943.3 560.8 L943.3 562.8 L943.3 564.8 L943.3 566.8 L943.3 568.8 L943.3 570.8 L943.3 572.8 L943.3 574.8 L943.3 574.8 L943.3 572.8 L943.3 570.8 L943.3 568.8 L943.3 566.8 L943.3 564.8 L943.3 562.8 L943.3 560.8 L943.3 558.8 L943.3 556.8 L943.3 554.8 L943.3 552.8 L943.3 550.8 L943.3 548.8 L943.3 546.8 L943.3 544.8 L943.3 542.8 L943.3 540.8 L943.2 538.8 L943.2 536.8 L943.2 534.8 L943.2 532.8 L943.2 530.8 L943.1 528.8 L943.1 526.8 L943.1 524.8 L943.0 522.8 L943.0 520.8 L942.9 518.8 L942.8 516.8 L942.8 514.8 L942.7 512.8 L942.6 510.8 L942.5 508.8 L942.3 506.8 L942.2 504.8 L942.0 502.8 L941.8 500.8 L941.7 498.8 L941.5 496.8 L941.3 494.8 L941.1 492.8 L940.9 490.8 L940.7 488.8 L940.5 486.8 L940.3 484.8 L940.1 482.8 L939.9 480.8 L939.8 478.8 L939.6 476.8 L939.4 474.8 L939.2 472.8 L939.1 470.8 L938.9 468.8 L938.7 466.8 L938.6 464.8 L938.4 462.8 L938.3 460.8 L938.1 458.8 L938.0 456.8 L937.8 454.8 L937.7 452.8 L937.6 450.8 L937.4 448.8 L937.3 446.8 L937.2 444.8 L937.2 442.8 L937.1 440.8 L937.0 438.8 L937.0 436.8 L936.9 434.8 L936.9 432.8 L936.8 430.8 L936.8 428.8 L936.8 426.8 L936.8 424.8 L936.8 422.8 L936.8 420.8 L936.9 418.8 L936.9 416.8 L937.0 414.8 L937.1 412.8 L937.2 410.8 L937.2 408.8 L937.3 406.8 L937.4 404.8 L937.5 402.8 L937.6 400.8 L937.7 398.8 L937.8 396.8 L937.9 394.8 L938.0 392.8 L938.1 390.8 L938.3 388.8 L938.4 386.8 L938.5 384.8 L938.6 382.8 L938.7 380.8 L938.8 378.8 L938.9 376.8 L939.0 374.8 L939.1 372.8 L939.2 370.8 L939.2 368.8 L939.3 366.8 L939.4 364.8 L939.4 362.8 L939.5 360.8 L939.6 358.8 L939.6 356.8 L939.7 354.8 L939.7 352.8 L939.7 350.8 L939.8 348.8 L939.8 346.8 L939.8 344.8 L939.8 342.8 L939.8 340.8 L939.8 338.8 L939.7 336.8 L939.7 334.8 L939.6 332.8 L939.5 330.8 L939.5 328.8 L939.4 326.8 L939.4 324.8 L939.3 322.8 L939.2 320.8 L939.2 318.8 L939.2 316.8 L939.1 314.8 L939.1 312.8 L939.1 310.8 L939.1 308.8 L939.1 306.8 L939.1 304.8 L939.1 302.8 L939.1 300.8 L939.2 298.8 L939.2 296.8 L939.2 294.8 L939.2 292.8 L939.2 290.8 L939.2 288.8 L939.3 286.8 L939.3 284.8 L939.3 282.8 L939.3 280.8 L939.4 278.8 L939.5 276.8 L939.5 274.8 L939.6 272.8 L939.8 270.8 L939.9 268.8 L940.1 266.8 L940.2 264.8 L940.4 262.8 L940.5 260.8 L940.7 258.8 L940.8 256.8 L941.0 254.8 L941.1 252.8 L941.2 250.8 L941.4 248.8 L941.5 246.8 L941.6 244.8 L941.8 242.8 L941.9 240.8 L942.0 238.8 L942.1 236.8 L942.2 234.8 L942.3 232.8 L942.4 230.8 L942.5 228.8 L942.6 226.8 L942.7 224.8 L942.7 222.8 L942.8 220.8 L942.9 218.8 L942.9 216.8 L943.0 214.8 L943.0 212.8 L943.1 210.8 L943.1 208.8 L943.2 206.8 L943.2 204.8 L943.2 202.8 L943.2 200.8 L943.3 198.8 L943.3 196.8 L943.3 194.8 L943.3 192.8 L943.3 190.8 L943.3 188.8 L943.3 186.8 L943.3 184.8 L943.3 182.8 L943.3 180.8 L943.3 178.8 L943.3 176.8 L943.3 174.8 L943.3 172.8 L943.3 170.8 Z" fill="#E76BF3" stroke="#333333" stroke-width="2.84" stroke-linejoin="round"/>
<path d="M995.5 125.2 L995.5 127.2 L995.5 129.2 L995.5 131.2 L995.5 133.2 L995.5 135.2 L995.5 137.2 L995.5 139.2 L995.5 141.2 L995.5 143.2 L995.5 145.2 L995.5 147.2 L995.5 149.2 L995.5 151.2 L995.5 153.2 L995.5 155.2 L995.5 157.2 L995.5 159.2 L995.5 161.2 L995.5 163.2 L995.5 165.2 L995.6 167.2 L995.6 169.2 L995.6 171.2 L995.6 173.2 L995.6 175.2 L995.6 177.2 L995.6 179.2 L995.6 181.2 L995.7 183.2 L995.7 185.2 L995.7 187.2 L995.7 189.2 L995.8 191.2 L995.8 193.2 L995.8 195.2 L995.9 197.2 L995.9 199.2 L995.9 201.2 L996.0 203.2 L996.0 205.2 L996.1 207.2 L996.1 209.2 L996.1 211.2 L996.2 213.2 L996.2 215.2 L996.3 217.2 L996.3 219.2 L996.4 221.2 L996.4 223.2 L996.5 225.2 L996.5 227.2 L996.6 229.2 L996.7 231.2 L996.8 233.2 L996.8 235.2 L996.9 237.2 L997.0 239.2 L997.0 241.2 L997.1 243.2 L997.2 245.2 L997.3 247.2 L997.3 249.2 L997.4 251.2 L997.4 253.2 L997.5 255.2 L997.6 257.1 L997.6 259.1 L997.7 261.1 L997.7 263.1 L997.8 265.1 L997.8 267.1 L997.9 269.1 L997.9 271.1 L998.0 273.1 L998.0 275.1 L998.1 277.1 L998.1 279.1 L998.2 281.1 L998.3 283.1 L998.3 285.1 L998.4 287.1 L998.4 289.1 L998.5 291.1 L998.5 293.1 L998.6 295.1 L998.6 297.1 L998.7 299.1 L998.7 301.1 L998.8 303.1 L998.8 305.1 L998.9 307.1 L998.9 309.1 L999.0 311.1 L999.0 313.1 L999.1 315.1 L999.1 317.1 L999.1 319.1 L999.2 321.1 L999.2 323.1 L999.2 325.1 L999.3 327.1 L999.3 329.1 L999.3 331.1 L999.4 333.1 L999.4 335.1 L999.4 337.1 L999.5 339.1 L999.5 341.1 L999.5 343.1 L999.6 345.1 L999.6 347.1 L999.6 349.1 L999.7 351.1 L999.7 353.1 L999.7 355.1 L999.8 357.1 L999.8 359.1 L999.8 361.1 L999.9 363.1 L999.9 365.1 L1000.0 367.1 L1000.0 369.1 L1000.0 371.1 L1000.1 373.1 L1000.1 375.1 L1000.2 377.1 L1000.2 379.1 L1000.3 381.1 L1000.3 383.1 L1000.4 385.1 L1000.4 387.1 L1000.5 389.1 L1000.5 391.1 L1000.5 393.1 L1000.6 395.1 L1000.6 397.1 L1000.6 399.1 L1000.6 401.1 L1000.6 403.1 L1000.6 405.1 L1000.5 407.1 L1000.5 409.1 L1000.5 411.1 L1000.5 413.1 L1000.4 415.1 L1000.4 417.1 L1000.4 419.1 L1000.3 421.1 L1000.3 423.1 L1000.3 425.1 L1000.2 427.1 L1000.2 429.1 L1000.1 431.1 L1000.1 433.1 L1000.0 435.1 L1000.0 437.1 L999.9 439.1 L999.9 441.1 L999.8 443.1 L999.7 445.1 L999.7 447.1 L999.6 449.1 L999.6 451.1 L999.5 453.1 L999.5 455.1 L999.4 457.1 L999.4 459.1 L999.3 461.1 L999.3 463.1 L999.2 465.1 L999.2 467.1 L999.1 469.1 L999.1 471.1 L999.0 473.1 L999.0 475.1 L998.9 477.1 L998.8 479.1 L998.7 481.1 L998.6 483.1 L998.5 485.1 L998.3 487.1 L998.2 489.1 L998.0 491.1 L997.9 493.1 L997.8 495.1 L997.6 497.1 L997.5 499.1 L997.4 501.1 L997.3 503.1 L997.2 505.1 L997.1 507.1 L997.0 509.1 L996.9 511.1 L996.8 513.1 L996.7 515.1 L996.6 517.1 L996.5 519.1 L996.5 521.1 L996.5 523.1 L996.5 525.1 L996.5 527.1 L996.5 529.1 L996.5 531.1 L996.5 533.1 L996.5 535.1 L996.5 537.1 L996.5 539.1 L996.5 541.1 L996.5 543.1 L996.5 545.1 L996.5 547.1 L996.5 549.1 L996.5 551.1 L996.5 553.1 L996.5 555.1 L996.5 557.1 L996.5 559.1 L996.6 561.1 L996.6 563.1 L996.6 565.1 L996.6 567.1 L996.6 569.1 L996.6 571.1 L996.6 573.1 L996.6 575.1 L996.6 577.1 L996.6 579.1 L996.6 581.1 L996.6 583.1 L996.5 585.1 L996.5 587.1 L996.5 589.1 L996.5 591.1 L996.5 593.1 L996.5 595.1 L996.4 597.1 L996.4 599.1 L996.4 601.1 L996.4 603.1 L996.4 605.1 L996.4 607.1 L996.3 609.1 L996.3 611.1 L996.3 613.1 L996.3 615.1 L996.2 617.1 L996.2 619.1 L996.2 621.1 L996.1 623.1 L996.1 625.1 L996.1 627.1 L996.1 629.1 L996.0 631.1 L996.0 633.1 L996.0 635.1 L996.0 637.1 L995.9 639.1 L995.9 641.1 L995.9 643.1 L995.9 645.1 L995.8 647.1 L995.8 649.1 L995.8 651.1 L995.8 653.1 L995.7 655.1 L995.7 657.1 L995.7 659.1 L995.7 661.1 L995.7 663.1 L995.7 665.1 L995.6 667.1 L995.6 669.1 L995.6 671.1 L995.6 673.1 L995.6 675.1 L995.6 677.1 L995.6 679.1 L995.6 681.1 L995.6 683.1 L995.6 685.1 L995.6 687.1 L995.5 689.1 L995.5 691.1 L995.5 693.1 L995.5 695.1 L995.5 697.1 L995.5 699.1 L995.5 701.1 L995.5 703.1 L995.5 705.1 L995.5 707.1 L995.5 709.1 L995.5 711.1 L995.5 713.1 L995.5 715.1 L995.5 717.1 L995.5 719.1 L995.5 721.1 L995.5 723.1 L995.5 725.1 L995.5 727.1 L995.5 728.1 L995.5 728.1 L995.5 727.1 L995.5 725.1 L995.5 723.1 L995.5 721.1 L995.5 719.1 L995.5 717.1 L995.5 715.1 L995.5 713.1 L995.5 711.1 L995.5 709.1 L995.5 707.1 L995.5 705.1 L995.5 703.1 L995.5 701.1 L995.5 699.1 L995.5 697.1 L995.5 695.1 L995.5 693.1 L995.5 691.1 L995.5 689.1 L995.4 687.1 L995.4 685.1 L995.4 683.1 L995.4 681.1 L995.4 679.1 L995.4 677.1 L995.4 675.1 L995.4 673.1 L995.4 671.1 L995.4 669.1 L995.4 667.1 L995.3 665.1 L995.3 663.1 L995.3 661.1 L995.3 659.1 L995.3 657.1 L995.3 655.1 L995.2 653.1 L995.2 651.1 L995.2 649.1 L995.2 647.1 L995.1 645.1 L995.1 643.1 L995.1 641.1 L995.1 639.1 L995.0 637.1 L995.0 635.1 L995.0 633.1 L995.0 631.1 L994.9 629.1 L994.9 627.1 L994.9 625.1 L994.9 623.1 L994.8 621.1 L994.8 619.1 L994.8 617.1 L994.7 615.1 L994.7 613.1 L994.7 611.1 L994.7 609.1 L994.6 607.1 L994.6 605.1 L994.6 603.1 L994.6 601.1 L994.6 599.1 L994.6 597.1 L994.5 595.1 L994.5 593.1 L994.5 591.1 L994.5 589.1 L994.5 587.1 L994.5 585.1 L994.4 583.1 L994.4 581.1 L994.4 579.1 L994.4 577.1 L994.4 575.1 L994.4 573.1 L994.4 571.1 L994.4 569.1 L994.4 567.1 L994.4 565.1 L994.4 563.1 L994.4 561.1 L994.5 559.1 L994.5 557.1 L994.5 555.1 L994.5 553.1 L994.5 551.1 L994.5 549.1 L994.5 547.1 L994.5 545.1 L994.5 543.1 L994.5 541.1 L994.5 539.1 L994.5 537.1 L994.5 535.1 L994.6 533.1 L994.5 531.1 L994.5 529.1 L994.5 527.1 L994.5 525.1 L994.5 523.1 L994.5 521.1 L994.5 519.1 L994.4 517.1 L994.3 515.1 L994.2 513.1 L994.1 511.1 L994.0 509.1 L993.9 507.1 L993.8 505.1 L993.7 503.1 L993.6 501.1 L993.5 499.1 L993.4 497.1 L993.2 495.1 L993.1 493.1 L993.0 491.1 L992.8 489.1 L992.7 487.1 L992.5 485.1 L992.4 483.1 L992.3 481.1 L992.2 479.1 L992.1 477.1 L992.0 475.1 L992.0 473.1 L991.9 471.1 L991.9 469.1 L991.8 467.1 L991.8 465.1 L991.7 463.1 L991.7 461.1 L991.6 459.1 L991.6 457.1 L991.5 455.1 L991.5 453.1 L991.4 451.1 L991.4 449.1 L991.3 447.1 L991.3 445.1 L991.2 443.1 L991.1 441.1 L991.1 439.1 L991.0 437.1 L991.0 435.1 L990.9 433.1 L990.9 431.1 L990.8 429.1 L990.8 427.1 L990.7 425.1 L990.7 423.1 L990.7 421.1 L990.6 419.1 L990.6 417.1 L990.6 415.1 L990.5 413.1 L990.5 411.1 L990.5 409.1 L990.5 407.1 L990.4 405.1 L990.4 403.1 L990.4 401.1 L990.4 399.1 L990.4 397.1 L990.4 395.1 L990.5 393.1 L990.5 391.1 L990.5 389.1 L990.6 387.1 L990.6 385.1 L990.7 383.1 L990.7 381.1 L990.8 379.1 L990.8 377.1 L990.9 375.1 L990.9 373.1 L991.0 371.1 L991.0 369.1 L991.0 367.1 L991.1 365.1 L991.1 363.1 L991.2 361.1 L991.2 359.1 L991.2 357.1 L991.3 355.1 L991.3 353.1 L991.3 351.1 L991.4 349.1 L991.4 347.1 L991.4 345.1 L991.5 343.1 L991.5 341.1 L991.5 339.1 L991.6 337.1 L991.6 335.1 L991.6 333.1 L991.7 331.1 L991.7 329.1 L991.7 327.1 L991.8 325.1 L991.8 323.1 L991.8 321.1 L991.9 319.1 L991.9 317.1 L991.9 315.1 L992.0 313.1 L992.0 311.1 L992.1 309.1 L992.1 307.1 L992.2 305.1 L992.2 303.1 L992.3 301.1 L992.3 299.1 L992.4 297.1 L992.4 295.1 L992.5 293.1 L992.5 291.1 L992.6 289.1 L992.6 287.1 L992.7 285.1 L992.7 283.1 L992.8 281.1 L992.9 279.1 L992.9 277.1 L993.0 275.1 L993.0 273.1 L993.1 271.1 L993.1 269.1 L993.2 267.1 L993.2 265.1 L993.3 263.1 L993.3 261.1 L993.4 259.1 L993.4 257.1 L993.5 255.2 L993.6 253.2 L993.6 251.2 L993.7 249.2 L993.7 247.2 L993.8 245.2 L993.9 243.2 L994.0 241.2 L994.0 239.2 L994.1 237.2 L994.2 235.2 L994.2 233.2 L994.3 231.2 L994.4 229.2 L994.5 227.2 L994.5 225.2 L994.6 223.2 L994.6 221.2 L994.7 219.2 L994.7 217.2 L994.8 215.2 L994.8 213.2 L994.9 211.2 L994.9 209.2 L994.9 207.2 L995.0 205.2 L995.0 203.2 L995.1 201.2 L995.1 199.2 L995.1 197.2 L995.2 195.2 L995.2 193.2 L995.2 191.2 L995.3 189.2 L995.3 187.2 L995.3 185.2 L995.3 183.2 L995.4 181.2 L995.4 179.2 L995.4 177.2 L995.4 175.2 L995.4 173.2 L995.4 171.2 L995.4 169.2 L995.4 167.2 L995.5 165.2 L995.5 163.2 L995.5 161.2 L995.5 159.2 L995.5 157.2 L995.5 155.2 L995.5 153.2 L995.5 151.2 L995.5 149.2 L995.5 147.2 L995.5 145.2 L995.5 143.2 L995.5 141.2 L995.5 139.2 L995.5 137.2 L995.5 135.2 L995.5 133.2 L995.5 131.2 L995.5 129.2 L995.5 127.2 L995.5 125.2 Z" fill="#FD61D1" stroke="#333333" stroke-width="2.84" stroke-linejoin="round"/>
<path d="M1047.7 113.4 L1047.7 115.4 L1047.7 117.4 L1047.7 119.4 L1047.7 121.4 L1047.7 123.4 L1047.7 125.4 L1047.7 127.4 L1047.7 129.4 L1047.7 131.4 L1047.7 133.4 L1047.8 135.4 L1047.8 137.4 L1047.8 139.4 L1047.8 141.4 L1047.8 143.4 L1047.8 145.4 L1047.8 147.4 L1047.8 149.4 L1047.8 151.4 L1047.9 153.4 L1047.9 155.4 L1047.9 157.4 L1048.0 159.4 L1048.1 161.4 L1048.1 163.4 L1048.2 165.4 L1048.3 167.4 L1048.4 169.4 L1048.5 171.4 L1048.6 173.4 L1048.7 175.4 L1048.8 177.4 L1048.9 179.4 L1049.0 181.4 L1049.1 183.4 L1049.2 185.4 L1049.4 187.4 L1049.5 189.4 L1049.6 191.4 L1049.8 193.4 L1050.0 195.4 L1050.1 197.4 L1050.3 199.4 L1050.5 201.4 L1050.6 203.4 L1050.8 205.4 L1050.9 207.4 L1051.1 209.4 L1051.2 211.4 L1051.3 213.4 L1051.4 215.4 L1051.5 217.4 L1051.5 219.4 L1051.6 221.4 L1051.7 223.4 L1051.8 225.4 L1051.9 227.4 L1051.9 229.4 L1052.0 231.4 L1052.1 233.4 L1052.1 235.4 L1052.2 237.4 L1052.2 239.4 L1052.2 241.4 L1052.3 243.4 L1052.3 245.4 L1052.3 247.4 L1052.3 249.4 L1052.3 251.4 L1052.3 253.4 L1052.3 255.4 L1052.3 257.4 L1052.3 259.4 L1052.4 261.4 L1052.4 263.4 L1052.4 265.4 L1052.4 267.4 L1052.4 269.4 L1052.4 271.4 L1052.4 273.4 L1052.4 275.4 L1052.4 277.4 L1052.4 279.4 L1052.4 281.4 L1052.4 283.4 L1052.4 285.4 L1052.4 287.4 L1052.3 289.4 L1052.3 291.4 L1052.3 293.4 L1052.3 295.4 L1052.3 297.4 L1052.2 299.4 L1052.2 301.4 L1052.2 303.4 L1052.2 305.4 L1052.2 307.4 L1052.1 309.4 L1052.1 311.4 L1052.1 313.4 L1052.2 315.4 L1052.2 317.4 L1052.2 319.4 L1052.3 321.4 L1052.3 323.4 L1052.4 325.4 L1052.5 327.4 L1052.5 329.4 L1052.6 331.4 L1052.7 333.4 L1052.8 335.4 L1052.9 337.4 L1053.1 339.4 L1053.2 341.4 L1053.3 343.4 L1053.4 345.4 L1053.5 347.4 L1053.6 349.4 L1053.7 351.4 L1053.8 353.4 L1053.8 355.4 L1053.9 357.4 L1054.0 359.4 L1054.0 361.4 L1054.1 363.4 L1054.1 365.4 L1054.2 367.4 L1054.2 369.4 L1054.1 371.4 L1054.1 373.4 L1054.0 375.4 L1054.0 377.4 L1053.9 379.4 L1053.8 381.4 L1053.7 383.4 L1053.6 385.4 L1053.5 387.4 L1053.4 389.4 L1053.3 391.4 L1053.1 393.4 L1052.9 395.4 L1052.7 397.4 L1052.4 399.4 L1052.2 401.4 L1051.9 403.4 L1051.7 405.4 L1051.4 407.4 L1051.2 409.4 L1051.0 411.4 L1050.8 413.4 L1050.6 415.4 L1050.4 417.4 L1050.2 419.4 L1050.1 421.4 L1049.9 423.4 L1049.8 425.4 L1049.7 427.4 L1049.5 429.4 L1049.4 431.4 L1049.3 433.4 L1049.2 435.4 L1049.1 437.4 L1049.0 439.4 L1049.0 441.4 L1048.9 443.4 L1048.8 445.4 L1048.7 447.4 L1048.7 449.4 L1048.6 451.4 L1048.5 453.4 L1048.4 455.4 L1048.4 457.4 L1048.3 459.4 L1048.2 461.4 L1048.2 463.4 L1048.1 465.4 L1048.1 467.4 L1048.1 469.4 L1048.0 471.4 L1048.0 473.4 L1048.0 475.4 L1047.9 477.4 L1047.9 479.4 L1047.9 481.4 L1047.9 483.4 L1047.8 485.4 L1047.8 487.4 L1047.8 489.4 L1047.8 491.4 L1047.8 493.4 L1047.8 495.4 L1047.7 497.4 L1047.7 499.4 L1047.7 501.4 L1047.7 503.4 L1047.7 505.4 L1047.7 505.9 L1047.7 505.9 L1047.7 505.4 L1047.7 503.4 L1047.7 501.4 L1047.6 499.4 L1047.6 497.4 L1047.6 495.4 L1047.6 493.4 L1047.6 491.4 L1047.6 489.4 L1047.6 487.4 L1047.5 485.4 L1047.5 483.4 L1047.5 481.4 L1047.5 479.4 L1047.5 477.4 L1047.4 475.4 L1047.4 473.4 L1047.4 471.4 L1047.3 469.4 L1047.3 467.4 L1047.2 465.4 L1047.2 463.4 L1047.1 461.4 L1047.1 459.4 L1047.0 457.4 L1046.9 455.4 L1046.9 453.4 L1046.8 451.4 L1046.7 449.4 L1046.6 447.4 L1046.6 445.4 L1046.5 443.4 L1046.4 441.4 L1046.3 439.4 L1046.2 437.4 L1046.2 435.4 L1046.1 433.4 L1046.0 431.4 L1045.8 429.4 L1045.7 427.4 L1045.6 425.4 L1045.4 423.4 L1045.3 421.4 L1045.1 419.4 L1045.0 417.4 L1044.8 415.4 L1044.6 413.4 L1044.4 411.4 L1044.2 409.4 L1044.0 407.4 L1043.7 405.4 L1043.5 403.4 L1043.2 401.4 L1042.9 399.4 L1042.7 397.4 L1042.5 395.4 L1042.3 393.4 L1042.1 391.4 L1042.0 389.4 L1041.9 387.4 L1041.7 385.4 L1041.6 383.4 L1041.5 381.4 L1041.5 379.4 L1041.4 377.4 L1041.3 375.4 L1041.3 373.4 L1041.2 371.4 L1041.2 369.4 L1041.2 367.4 L1041.2 365.4 L1041.3 363.4 L1041.3 361.4 L1041.4 359.4 L1041.5 357.4 L1041.5 355.4 L1041.6 353.4 L1041.7 351.4 L1041.8 349.4 L1041.9 347.4 L1042.0 345.4 L1042.1 343.4 L1042.2 341.4 L1042.3 339.4 L1042.4 337.4 L1042.5 335.4 L1042.7 333.4 L1042.7 331.4 L1042.8 329.4 L1042.9 327.4 L1043.0 325.4 L1043.0 323.4 L1043.1 321.4 L1043.1 319.4 L1043.2 317.4 L1043.2 315.4 L1043.2 313.4 L1043.2 311.4 L1043.2 309.4 L1043.2 307.4 L1043.2 305.4 L1043.2 303.4 L1043.2 301.4 L1043.1 299.4 L1043.1 297.4 L1043.1 295.4 L1043.1 293.4 L1043.1 291.4 L1043.0 289.4 L1043.0 287.4 L1043.0 285.4 L1043.0 283.4 L1043.0 281.4 L1043.0 279.4 L1043.0 277.4 L1043.0 275.4 L1043.0 273.4 L1043.0 271.4 L1043.0 269.4 L1043.0 267.4 L1043.0 265.4 L1043.0 263.4 L1043.0 261.4 L1043.0 259.4 L1043.0 257.4 L1043.0 255.4 L1043.1 253.4 L1043.1 251.4 L1043.1 249.4 L1043.1 247.4 L1043.1 245.4 L1043.1 243.4 L1043.1 241.4 L1043.2 239.4 L1043.2 237.4 L1043.3 235.4 L1043.3 233.4 L1043.4 231.4 L1043.4 229.4 L1043.5 227.4 L1043.6 225.4 L1043.7 223.4 L1043.7 221.4 L1043.8 219.4 L1043.9 217.4 L1044.0 215.4 L1044.1 213.4 L1044.2 211.4 L1044.3 209.4 L1044.5 207.4 L1044.6 205.4 L1044.8 203.4 L1044.9 201.4 L1045.1 199.4 L1045.2 197.4 L1045.4 195.4 L1045.6 193.4 L1045.7 191.4 L1045.9 189.4 L1046.0 187.4 L1046.1 185.4 L1046.3 183.4 L1046.4 181.4 L1046.5 179.4 L1046.6 177.4 L1046.7 175.4 L1046.8 173.4 L1046.9 171.4 L1047.0 169.4 L1047.1 167.4 L1047.2 165.4 L1047.3 163.4 L1047.3 161.4 L1047.4 159.4 L1047.4 157.4 L1047.5 155.4 L1047.5 153.4 L1047.5 151.4 L1047.6 149.4 L1047.6 147.4 L1047.6 145.4 L1047.6 143.4 L1047.6 141.4 L1047.6 139.4 L1047.6 137.4 L1047.6 135.4 L1047.6 133.4 L1047.6 131.4 L1047.6 129.4 L1047.6 127.4 L1047.6 125.4 L1047.7 123.4 L1047.7 121.4 L1047.7 119.4 L1047.7 117.4 L1047.7 115.4 L1047.7 113.4 Z" fill="#FF67A4" stroke="#333333" stroke-width="2.84" stroke-linejoin="round"/>
<line x1="69.67" x2="77.0" y1="212.55" y2="212.55" stroke="#333333" stroke-width="2.84"/>
<text x="64.1" y="220.85" text-anchor="end" font-size="23.47" fill="#4D4D4D" font-family="Liberation Sans, sans-serif">7</text>
<line x1="69.67" x2="77.0" y1="388.40" y2="388.40" stroke="#333333" stroke-width="2.84"/>
<text x="64.1" y="396.70" text-anchor="end" font-size="23.47" fill="#4D4D4D" font-family="Liberation Sans, sans-serif">6</text>
<line x1="69.67" x2="77.0" y1="564.25" y2="564.25" stroke="#333333" stroke-width="2.84"/>
<text x="64.1" y="572.55" text-anchor="end" font-size="23.47" fill="#4D4D4D" font-family="Liberation Sans, sans-serif">5</text>
<line x1="69.67" x2="77.0" y1="740.10" y2="740.10" stroke="#333333" stroke-width="2.84"/>
<text x="64.1" y="748.40" text-anchor="end" font-size="23.47" fill="#4D4D4D" font-family="Liberation Sans, sans-serif">4</text>
<line x1="108.31" x2="108.31" y1="844.0" y2="851.33" stroke="#333333" stroke-width="2.84"/>
<text transform="translate(108.31,857.5) rotate(-45)" x="0" y="16.8" text-anchor="end" font-size="23.47" fill="#4D4D4D" font-family="Liberation Sans, sans-serif">ALA</text>
<line x1="160.50" x2="160.50" y1="844.0" y2="851.33" stroke="#333333" stroke-width="2.84"/>
<text transform="translate(160.50,857.5) rotate(-45)" x="0" y="16.8" text-anchor="end" font-size="23.47" fill="#4D4D4D" font-family="Liberation Sans, sans-serif">ARG</text>
<line x1="212.69" x2="212.69" y1="844.0" y2="851.33" stroke="#333333" stroke-width="2.84"/>
<text transform="translate(212.69,857.5) rotate(-45)" x="0" y="16.8" text-anchor="end" font-size="23.47" fill="#4D4D4D" font-family="Liberation Sans, sans-serif">ASN</text>
<line x1="264.88" x2="264.88" y1="844.0" y2="851.33" stroke="#333333" stroke-width="2.84"/>
<text transform="translate(264.88,857.5) rotate(-45)" x="0" y="16.8" text-anchor="end" font-size="23.47" fill="#4D4D4D" font-family="Liberation Sans, sans-serif">CYS</text>
<line x1="317.06" x2="317.06" y1="844.0" y2="851.33" stroke="#333333" stroke-width="2.84"/>
<text transform="translate(317.06,857.5) rotate(-45)" x="0" y="16.8" text-anchor="end" font-size="23.47" fill="#4D4D4D" font-family="Liberation Sans, sans-serif">GLN</text>
<line x1="369.25" x2="369.25" y1="844.0" y2="851.33" stroke="#333333" stroke-width="2.84"/>
<text transform="translate(369.25,857.5) rotate(-45)" x="0" y="16.8" text-anchor="end" font-size="23.47" fill="#4D4D4D" font-family="Liberation Sans, sans-serif">GLU</text>
<line x1="421.44" x2="421.44" y1="844.0" y2="851.33" stroke="#333333" stroke-width="2.84"/>
<text transform="translate(421.44,857.5) rotate(-45)" x="0" y="16.8" text-anchor="end" font-size="23.47" fill="#4D4D4D" font-family="Liberation Sans, sans-serif">GLY</text>
<line x1="473.62" x2="473.62" y1="844.0" y2="851.33" stroke="#333333" stroke-width="2.84"/>
<text transform="translate(473.62,857.5) rotate(-45)" x="0" y="16.8" text-anchor="end" font-size="23.47" fill="#4D4D4D" font-family="Liberation Sans, sans-serif">HIS</text>
<line x1="525.81" x2="525.81" y1="844.0" y2="851.33" stroke="#333333" stroke-width="2.84"/>
<text transform="translate(525.81,857.5) rotate(-45)" x="0" y="16.8" text-anchor="end" font-size="23.47" fill="#4D4D4D" font-family="Liberation Sans, sans-serif">ILE</text>
<line x1="578.00" x2="578.00" y1="844.0" y2="851.33" stroke="#333333" stroke-width="2.84"/>
<text transform="translate(578.00,857.5) rotate(-45)" x="0" y="16.8" text-anchor="end" font-size="23.47" fill="#4D4D4D" font-family="Liberation Sans, sans-serif">LEU</text>
<line x1="630.19" x2="630.19" y1="844.0" y2="851.33" stroke="#333333" stroke-width="2.84"/>
<text transform="translate(630.19,857.5) rotate(-45)" x="0" y="16.8" text-anchor="end" font-size="23.47" fill="#4D4D4D" font-family="Liberation Sans, sans-serif">LYS</text>
<line x1="682.38" x2="682.38" y1="844.0" y2="851.33" stroke="#333333" stroke-width="2.84"/>
<text transform="translate(682.38,857.5) rotate(-45)" x="0" y="16.8" text-anchor="end" font-size="23.47" fill="#4D4D4D" font-family="Liberation Sans, sans-serif">MET</text>
<line x1="734.56" x2="734.56" y1="844.0" y2="851.33" stroke="#333333" stroke-width="2.84"/>
<text transform="translate(734.56,857.5) rotate(-45)" x="0" y="16.8" text-anchor="end" font-size="23.47" fill="#4D4D4D" font-family="Liberation Sans, sans-serif">PHE</text>
<line x1="786.75" x2="786.75" y1="844.0" y2="851.33" stroke="#333333" stroke-width="2.84"/>
<text transform="translate(786.75,857.5) rotate(-45)" x="0" y="16.8" text-anchor="end" font-size="23.47" fill="#4D4D4D" font-family="Liberation Sans, sans-serif">PRO</text>
<line x1="838.94" x2="838.94" y1="844.0" y2="851.33" stroke="#333333" stroke-width="2.84"/>
<text transform="translate(838.94,857.5) rotate(-45)" x="0" y="16.8" text-anchor="end" font-size="23.47" fill="#4D4D4D" font-family="Liberation Sans, sans-serif">SER</text>
<line x1="891.12" x2="891.12" y1="844.0" y2="851.33" stroke="#333333" stroke-width="2.84"/>
<text transform="translate(891.12,857.5) rotate(-45)" x="0" y="16.8" text-anchor="end" font-size="23.47" fill="#4D4D4D" font-family="Liberation Sans, sans-serif">THR</text>
<line x1="943.31" x2="943.31" y1="844.0" y2="851.33" stroke="#333333" stroke-width="2.84"/>
<text transform="translate(943.31,857.5) rotate(-45)" x="0" y="16.8" text-anchor="end" font-size="23.47" fill="#4D4D4D" font-family="Liberation Sans, sans-serif">TRP</text>
<line x1="995.50" x2="995.50" y1="844.0" y2="851.33" stroke="#333333" stroke-width="2.84"/>
<text transform="translate(995.50,857.5) rotate(-45)" x="0" y="16.8" text-anchor="end" font-size="23.47" fill="#4D4D4D" font-family="Liberation Sans, sans-serif">TYR</text>
<line x1="1047.69" x2="1047.69" y1="844.0" y2="851.33" stroke="#333333" stroke-width="2.84"/>
<text transform="translate(1047.69,857.5) rotate(-45)" x="0" y="16.8" text-anchor="end" font-size="23.47" fill="#4D4D4D" font-family="Liberation Sans, sans-serif">VAL</text>
<text transform="translate(77,41) scale(1.004,1.07)" font-size="35.2" fill="#000000" font-family="Liberation Sans, sans-serif">HEC: Distribution of Residues by Mean_Distance</text>
<text transform="translate(579,938) scale(0.995,1.07)" text-anchor="middle" font-size="29.33" fill="#000000" font-family="Liberation Sans, sans-serif">Residue</text>
<text transform="translate(36.6,455) rotate(-90) scale(0.992,1.06)" x="0" y="0" text-anchor="middle" font-size="29.33" fill="#000000" font-family="Liberation Sans, sans-serif">Mean_Distance (Å)</text>
<text transform="translate(1123,111.6) scale(0.985,1.056)" font-size="29.33" fill="#000000" font-family="Liberation Sans, sans-serif">Residue_Code</text>
<rect x="1124.82" y="131.92" width="41.86" height="41.36" fill="#F8766D" stroke="#333333" stroke-width="2.84" stroke-linejoin="miter"/>
<text transform="translate(1183.1,161.90) scale(1,1.05)" font-size="23.47" fill="#000000" font-family="Liberation Sans, sans-serif">ALA</text>
<rect x="1123.6" y="174.80" width="44.8" height="1.9" fill="#9E9E9E"/>
<rect x="1124.82" y="178.00" width="41.86" height="41.36" fill="#E58700" stroke="#333333" stroke-width="2.84" stroke-linejoin="miter"/>
<text transform="translate(1183.1,207.93) scale(1,1.05)" font-size="23.47" fill="#000000" font-family="Liberation Sans, sans-serif">ARG</text>
<rect x="1123.6" y="220.88" width="44.8" height="1.9" fill="#9E9E9E"/>
<rect x="1124.82" y="224.08" width="41.86" height="41.36" fill="#C99800" stroke="#333333" stroke-width="2.84" stroke-linejoin="miter"/>
<text transform="translate(1183.1,253.96) scale(1,1.05)" font-size="23.47" fill="#000000" font-family="Liberation Sans, sans-serif">CYS</text>
<rect x="1123.6" y="266.96" width="44.8" height="1.9" fill="#9E9E9E"/>
<rect x="1124.82" y="270.16" width="41.86" height="41.36" fill="#A3A500" stroke="#333333" stroke-width="2.84" stroke-linejoin="miter"/>
<text transform="translate(1183.1,299.99) scale(1,1.05)" font-size="23.47" fill="#000000" font-family="Liberation Sans, sans-serif">GLY</text>
<rect x="1123.6" y="313.04" width="44.8" height="1.9" fill="#9E9E9E"/>
<rect x="1124.82" y="316.24" width="41.86" height="41.36" fill="#6BB100" stroke="#333333" stroke-width="2.84" stroke-linejoin="miter"/>
<text transform="translate(1183.1,346.02) scale(1,1.05)" font-size="23.47" fill="#000000" font-family="Liberation Sans, sans-serif">HIS</text>
<rect x="1123.6" y="359.12" width="44.8" height="1.9" fill="#9E9E9E"/>
<rect x="1124.82" y="362.32" width="41.86" height="41.36" fill="#00BA38" stroke="#333333" stroke-width="2.84" stroke-linejoin="miter"/>
<text transform="translate(1183.1,392.05) scale(1,1.05)" font-size="23.47" fill="#000000" font-family="Liberation Sans, sans-serif">ILE</text>
<rect x="1123.6" y="405.20" width="44.8" height="1.9" fill="#9E9E9E"/>
<rect x="1124.82" y="408.40" width="41.86" height="41.36" fill="#00BF7D" stroke="#333333" stroke-width="2.84" stroke-linejoin="miter"/>
<text transform="translate(1183.1,438.08) scale(1,1.05)" font-size="23.47" fill="#000000" font-family="Liberation Sans, sans-serif">LEU</text>
<rect x="1123.6" y="451.28" width="44.8" height="1.9" fill="#9E9E9E"/>
<rect x="1124.82" y="454.48" width="41.86" height="41.36" fill="#00C0AF" stroke="#333333" stroke-width="2.84" stroke-linejoin="miter"/>
<text transform="translate(1183.1,484.11) scale(1,1.05)" font-size="23.47" fill="#000000" font-family="Liberation Sans, sans-serif">LYS</text>
<rect x="1123.6" y="497.36" width="44.8" height="1.9" fill="#9E9E9E"/>
<rect x="1124.82" y="500.56" width="41.86" height="41.36" fill="#00BCD8" stroke="#333333" stroke-width="2.84" stroke-linejoin="miter"/>
<text transform="translate(1183.1,530.14) scale(1,1.05)" font-size="23.47" fill="#000000" font-family="Liberation Sans, sans-serif">MET</text>
<rect x="1123.6" y="543.44" width="44.8" height="1.9" fill="#9E9E9E"/>
<rect x="1124.82" y="546.64" width="41.86" height="41.36" fill="#00B0F6" stroke="#333333" stroke-width="2.84" stroke-linejoin="miter"/>
<text transform="translate(1183.1,576.17) scale(1,1.05)" font-size="23.47" fill="#000000" font-family="Liberation Sans, sans-serif">PHE</text>
<rect x="1123.6" y="589.52" width="44.8" height="1.9" fill="#9E9E9E"/>
<rect x="1124.82" y="592.72" width="41.86" height="41.36" fill="#619CFF" stroke="#333333" stroke-width="2.84" stroke-linejoin="miter"/>
<text transform="translate(1183.1,622.20) scale(1,1.05)" font-size="23.47" fill="#000000" font-family="Liberation Sans, sans-serif">PRO</text>
<rect x="1123.6" y="635.60" width="44.8" height="1.9" fill="#9E9E9E"/>
<rect x="1124.82" y="638.80" width="41.86" height="41.36" fill="#B983FF" stroke="#333333" stroke-width="2.84" stroke-linejoin="miter"/>
<text transform="translate(1183.1,668.23) scale(1,1.05)" font-size="23.47" fill="#000000" font-family="Liberation Sans, sans-serif">THR</text>
<rect x="1123.6" y="681.68" width="44.8" height="1.9" fill="#9E9E9E"/>
<rect x="1124.82" y="684.88" width="41.86" height="41.36" fill="#E76BF3" stroke="#333333" stroke-width="2.84" stroke-linejoin="miter"/>
<text transform="translate(1183.1,714.26) scale(1,1.05)" font-size="23.47" fill="#000000" font-family="Liberation Sans, sans-serif">TRP</text>
<rect x="1123.6" y="727.76" width="44.8" height="1.9" fill="#9E9E9E"/>
<rect x="1124.82" y="730.96" width="41.86" height="41.36" fill="#FD61D1" stroke="#333333" stroke-width="2.84" stroke-linejoin="miter"/>
<text transform="translate(1183.1,760.29) scale(1,1.05)" font-size="23.47" fill="#000000" font-family="Liberation Sans, sans-serif">TYR</text>
<rect x="1123.6" y="773.84" width="44.8" height="1.9" fill="#9E9E9E"/>
<rect x="1124.82" y="777.04" width="41.86" height="41.36" fill="#FF67A4" stroke="#333333" stroke-width="2.84" stroke-linejoin="miter"/>
<text transform="translate(1183.1,806.32) scale(1,1.05)" font-size="23.47" fill="#000000" font-family="Liberation Sans, sans-serif">VAL</text>
</svg></body></html>
